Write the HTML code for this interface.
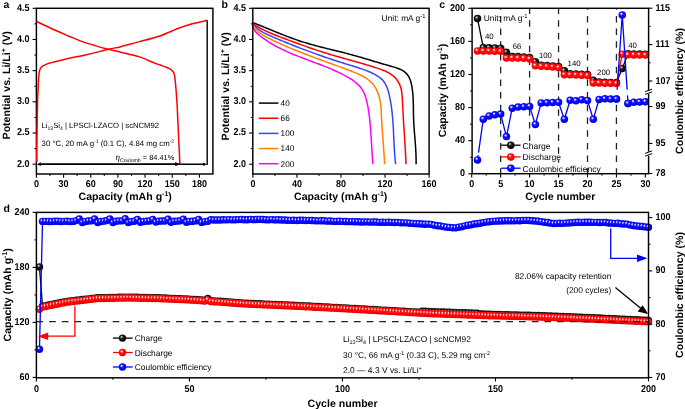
<!DOCTYPE html>
<html><head><meta charset="utf-8"><style>html,body{margin:0;padding:0;background:#fff;width:685px;height:409px;overflow:hidden}svg{display:block;will-change:transform}</style></head>
<body><svg width="685" height="409" viewBox="0 0 685 409" font-family='"Liberation Sans", sans-serif' text-rendering="geometricPrecision"><defs>
<radialGradient id="gR" cx="0.46" cy="0.44" r="0.58" fx="0.36" fy="0.32">
<stop offset="0" stop-color="#ffffff"/><stop offset="0.1" stop-color="#ffe8e8"/><stop offset="0.36" stop-color="#ff1818"/><stop offset="0.75" stop-color="#ff0000"/><stop offset="1" stop-color="#d00000"/></radialGradient>
<radialGradient id="gK" cx="0.46" cy="0.44" r="0.58" fx="0.36" fy="0.32">
<stop offset="0" stop-color="#e8e8e8"/><stop offset="0.1" stop-color="#b0b0b0"/><stop offset="0.4" stop-color="#1a1a1a"/><stop offset="1" stop-color="#000000"/></radialGradient>
<radialGradient id="gB" cx="0.46" cy="0.44" r="0.58" fx="0.36" fy="0.32">
<stop offset="0" stop-color="#ffffff"/><stop offset="0.1" stop-color="#e0e0ff"/><stop offset="0.36" stop-color="#1818ff"/><stop offset="0.75" stop-color="#0000ff"/><stop offset="1" stop-color="#0000d0"/></radialGradient>
<marker id="arK" viewBox="0 0 10 10" refX="10" refY="5" markerWidth="5" markerHeight="5" orient="auto-start-reverse" markerUnits="userSpaceOnUse"><path d="M0,0 L10,5 L0,10 z" fill="#000"/></marker>
</defs>
<text x="3.60" y="7.80" font-size="10.5" font-weight="bold" text-anchor="start" fill="#000" >a</text>
<rect x="36.40" y="8.30" width="176.50" height="165.70" fill="none" stroke="#000" stroke-width="1.45"/>
<path d="M36.70,162.00 C36.73,158.33 36.80,147.83 36.90,140.00 C37.00,132.17 37.18,121.67 37.30,115.00 C37.42,108.33 37.48,103.88 37.60,100.00 C37.72,96.12 37.85,95.12 38.00,91.70 C38.15,88.28 38.25,82.97 38.50,79.50 C38.75,76.03 39.03,72.95 39.50,70.90 C39.97,68.85 40.38,68.22 41.30,67.20 C42.22,66.18 43.57,65.50 45.00,64.80 C46.43,64.10 47.03,63.82 49.90,63.00 C52.77,62.18 59.00,60.68 62.20,59.90 C65.40,59.12 64.68,59.25 69.10,58.30 C73.52,57.35 82.17,55.70 88.70,54.20 C95.23,52.70 103.08,50.52 108.30,49.30 C113.52,48.08 116.38,47.75 120.00,46.90 C123.62,46.05 126.75,45.08 130.00,44.20 C133.25,43.32 134.65,42.93 139.50,41.60 C144.35,40.27 152.58,38.42 159.10,36.20 C165.62,33.98 173.07,30.37 178.60,28.30 C184.13,26.23 187.57,25.13 192.30,23.80 C197.03,22.47 204.55,20.88 207.00,20.30" fill="none" stroke="#ff0000" stroke-width="1.5"/>
<path d="M36.60,21.50 C39.73,22.97 49.98,27.85 55.40,30.30 C60.82,32.75 64.85,34.40 69.10,36.20 C73.35,38.00 76.58,39.53 80.90,41.10 C85.22,42.67 90.43,44.23 95.00,45.60 C99.57,46.97 104.13,48.23 108.30,49.30 C112.47,50.37 116.38,51.15 120.00,52.00 C123.62,52.85 126.75,53.58 130.00,54.40 C133.25,55.22 135.63,55.55 139.50,56.90 C143.37,58.25 149.78,61.15 153.20,62.50 C156.62,63.85 157.85,64.22 160.00,65.00 C162.15,65.78 164.37,66.52 166.10,67.20 C167.83,67.88 169.27,68.38 170.40,69.10 C171.53,69.82 172.23,70.58 172.90,71.50 C173.57,72.42 174.00,72.87 174.40,74.60 C174.80,76.33 175.00,79.05 175.30,81.90 C175.60,84.75 175.90,87.85 176.20,91.70 C176.50,95.55 176.72,97.78 177.10,105.00 C177.48,112.22 178.03,125.13 178.50,135.00 C178.97,144.87 179.67,159.33 179.90,164.20" fill="none" stroke="#ff0000" stroke-width="1.5"/>
<line x1="207.20" y1="20.30" x2="207.20" y2="164.90" stroke="#000" stroke-width="1.4" />
<line x1="39.44" y1="164.20" x2="177.04" y2="164.20" stroke="#000" stroke-width="1.4" />
<path d="M179.80,164.20 L175.20,162.10 L175.20,166.30 z" fill="#000"/>
<path d="M37.40,164.20 L40.80,162.60 L40.80,165.80 z" fill="#000"/>
<line x1="39.44" y1="164.20" x2="204.74" y2="164.20" stroke="#000" stroke-width="1.4" />
<path d="M206.90,164.20 L203.30,162.50 L203.30,165.90 z" fill="#000"/>
<path d="M37.40,164.20 L40.80,162.60 L40.80,165.80 z" fill="#000"/>
<line x1="36.40" y1="174.00" x2="36.40" y2="177.70" stroke="#000" stroke-width="1.1" />
<text transform="translate(36.40,187.40) scale(1,1.1)" font-size="9" font-weight="bold" text-anchor="middle" fill="#000" >0</text>
<line x1="63.57" y1="174.00" x2="63.57" y2="177.70" stroke="#000" stroke-width="1.1" />
<text transform="translate(63.57,187.40) scale(1,1.1)" font-size="9" font-weight="bold" text-anchor="middle" fill="#000" >30</text>
<line x1="90.74" y1="174.00" x2="90.74" y2="177.70" stroke="#000" stroke-width="1.1" />
<text transform="translate(90.74,187.40) scale(1,1.1)" font-size="9" font-weight="bold" text-anchor="middle" fill="#000" >60</text>
<line x1="117.90" y1="174.00" x2="117.90" y2="177.70" stroke="#000" stroke-width="1.1" />
<text transform="translate(117.90,187.40) scale(1,1.1)" font-size="9" font-weight="bold" text-anchor="middle" fill="#000" >90</text>
<line x1="145.07" y1="174.00" x2="145.07" y2="177.70" stroke="#000" stroke-width="1.1" />
<text transform="translate(145.07,187.40) scale(1,1.1)" font-size="9" font-weight="bold" text-anchor="middle" fill="#000" >120</text>
<line x1="172.24" y1="174.00" x2="172.24" y2="177.70" stroke="#000" stroke-width="1.1" />
<text transform="translate(172.24,187.40) scale(1,1.1)" font-size="9" font-weight="bold" text-anchor="middle" fill="#000" >150</text>
<line x1="199.41" y1="174.00" x2="199.41" y2="177.70" stroke="#000" stroke-width="1.1" />
<text transform="translate(199.41,187.40) scale(1,1.1)" font-size="9" font-weight="bold" text-anchor="middle" fill="#000" >180</text>
<line x1="49.98" y1="174.00" x2="49.98" y2="176.00" stroke="#000" stroke-width="1.0" />
<line x1="77.15" y1="174.00" x2="77.15" y2="176.00" stroke="#000" stroke-width="1.0" />
<line x1="104.32" y1="174.00" x2="104.32" y2="176.00" stroke="#000" stroke-width="1.0" />
<line x1="131.49" y1="174.00" x2="131.49" y2="176.00" stroke="#000" stroke-width="1.0" />
<line x1="158.66" y1="174.00" x2="158.66" y2="176.00" stroke="#000" stroke-width="1.0" />
<line x1="185.82" y1="174.00" x2="185.82" y2="176.00" stroke="#000" stroke-width="1.0" />
<line x1="32.60" y1="164.20" x2="36.40" y2="164.20" stroke="#000" stroke-width="1.1" />
<text transform="translate(29.60,166.50) scale(1,1.1)" font-size="9" font-weight="bold" text-anchor="end" fill="#000" >2.0</text>
<line x1="32.60" y1="133.02" x2="36.40" y2="133.02" stroke="#000" stroke-width="1.1" />
<text transform="translate(29.60,135.32) scale(1,1.1)" font-size="9" font-weight="bold" text-anchor="end" fill="#000" >2.5</text>
<line x1="32.60" y1="101.84" x2="36.40" y2="101.84" stroke="#000" stroke-width="1.1" />
<text transform="translate(29.60,104.14) scale(1,1.1)" font-size="9" font-weight="bold" text-anchor="end" fill="#000" >3.0</text>
<line x1="32.60" y1="70.66" x2="36.40" y2="70.66" stroke="#000" stroke-width="1.1" />
<text transform="translate(29.60,72.96) scale(1,1.1)" font-size="9" font-weight="bold" text-anchor="end" fill="#000" >3.5</text>
<line x1="32.60" y1="39.48" x2="36.40" y2="39.48" stroke="#000" stroke-width="1.1" />
<text transform="translate(29.60,41.78) scale(1,1.1)" font-size="9" font-weight="bold" text-anchor="end" fill="#000" >4.0</text>
<line x1="32.60" y1="8.30" x2="36.40" y2="8.30" stroke="#000" stroke-width="1.1" />
<text transform="translate(29.60,10.60) scale(1,1.1)" font-size="9" font-weight="bold" text-anchor="end" fill="#000" >4.5</text>
<line x1="34.40" y1="148.61" x2="36.40" y2="148.61" stroke="#000" stroke-width="1.0" />
<line x1="34.40" y1="117.43" x2="36.40" y2="117.43" stroke="#000" stroke-width="1.0" />
<line x1="34.40" y1="86.25" x2="36.40" y2="86.25" stroke="#000" stroke-width="1.0" />
<line x1="34.40" y1="55.07" x2="36.40" y2="55.07" stroke="#000" stroke-width="1.0" />
<line x1="34.40" y1="23.89" x2="36.40" y2="23.89" stroke="#000" stroke-width="1.0" />
<text x="125.20" y="199.90" font-size="10.6" font-weight="bold" text-anchor="middle" fill="#000" >Capacity (mAh g<tspan font-size="7" dy="-4">-1</tspan><tspan dy="4">)</tspan></text>
<text transform="translate(9.80,85.30) rotate(-90)" x="0" y="0" font-size="10.6" font-weight="bold" text-anchor="middle">Potential vs. Li/Li<tspan font-size="7" dy="-4">+</tspan><tspan dy="4"> (V)</tspan></text>
<text x="41.6" y="128.2" font-size="7.7" fill="#000">Li<tspan font-size="5" dy="2">13</tspan><tspan dy="-2">Si</tspan><tspan font-size="5" dy="2">4</tspan><tspan dy="-2"> | LPSCl-LZACO | scNCM92</tspan></text>
<text x="41.6" y="145.8" font-size="7.8" fill="#000">30 °C, 20 mA g<tspan font-size="5" dy="-3">-1</tspan><tspan dy="3"> (0.1 C), 4.84 mg cm</tspan><tspan font-size="5" dy="-3">-2</tspan></text>
<text x="115.5" y="160" font-size="7.4" fill="#000"><tspan font-family="Liberation Serif" font-style="italic" font-size="9">η</tspan><tspan font-size="5.2" dy="1.5">Coulomb</tspan><tspan dy="-1.5"> = 84.41%</tspan></text>
<text x="221.60" y="7.80" font-size="10.5" font-weight="bold" text-anchor="start" fill="#000" >b</text>
<path d="M252.76,22.67 L254.26,23.24 L255.76,23.81 L257.26,24.39 L258.76,24.98 L260.25,25.57 L261.74,26.16 L263.23,26.76 L264.71,27.36 L266.20,27.96 L267.68,28.56 L269.16,29.17 L270.64,29.78 L272.12,30.38 L273.60,30.99 L275.08,31.59 L276.56,32.20 L278.04,32.80 L279.52,33.39 L281.01,33.99 L282.49,34.58 L283.98,35.17 L285.47,35.75 L286.95,36.33 L288.45,36.90 L289.94,37.46 L291.44,38.02 L292.94,38.57 L294.44,39.11 L295.95,39.64 L297.46,40.16 L298.98,40.68 L300.50,41.18 L302.02,41.67 L303.55,42.15 L305.08,42.62 L306.62,43.09 L308.16,43.54 L309.70,43.99 L311.25,44.42 L312.80,44.86 L314.35,45.28 L315.90,45.70 L317.46,46.11 L319.02,46.52 L320.58,46.92 L322.14,47.32 L323.70,47.71 L325.26,48.11 L326.82,48.50 L328.38,48.88 L329.94,49.27 L331.50,49.65 L333.06,50.03 L334.62,50.42 L336.18,50.80 L337.73,51.19 L339.29,51.57 L340.84,51.96 L342.39,52.35 L343.94,52.74 L345.48,53.14 L347.02,53.53 L348.56,53.94 L350.09,54.35 L351.62,54.76 L353.15,55.18 L354.68,55.60 L356.20,56.03 L357.72,56.46 L359.24,56.90 L360.75,57.34 L362.27,57.78 L363.79,58.23 L365.31,58.67 L366.83,59.13 L368.35,59.58 L369.87,60.03 L371.40,60.49 L372.93,60.95 L374.46,61.41 L376.00,61.86 L377.55,62.32 L379.09,62.78 L380.65,63.24 L382.21,63.70 L383.78,64.16 L385.35,64.62 L386.93,65.08 L388.52,65.53 L390.12,65.99 L391.73,66.44 L393.34,66.90 L394.93,67.38 L396.51,67.89 L398.04,68.44 L399.54,69.03 L400.98,69.69 L402.36,70.42 L403.66,71.23 L404.88,72.13 L406.00,73.12 L407.02,74.22 L407.94,75.42 L408.74,76.70 L409.44,78.07 L410.05,79.51 L410.57,81.01 L411.02,82.56 L411.41,84.14 L411.74,85.73 L412.02,87.34 L412.27,88.95 L412.49,90.56 L412.68,92.17 L412.83,93.78 L412.96,95.39 L413.07,97.00 L413.15,98.61 L413.22,100.22 L413.27,101.84 L413.31,103.45 L413.34,105.06 L413.37,106.67 L413.39,108.27 L413.40,109.88 L413.42,111.49 L413.44,113.09 L413.47,114.69 L413.51,116.30 L413.56,117.90 L413.62,119.49 L413.69,121.09 L413.77,122.69 L413.86,124.28 L413.96,125.87 L414.07,127.46 L414.18,129.05 L414.30,130.64 L414.42,132.23 L414.55,133.82 L414.68,135.41 L414.81,137.00 L414.93,138.59 L415.06,140.18 L415.18,141.77 L415.31,143.36 L415.42,144.96 L415.53,146.55 L415.64,148.14 L415.74,149.74 L415.82,151.34 L415.90,152.94 L415.97,154.54 L416.03,156.14 L416.07,157.75 L416.10,159.36 L416.12,160.97 L416.11,162.59 L416.10,164.20" fill="none" stroke="#000000" stroke-width="1.5"/>
<path d="M252.56,22.79 L253.59,23.84 L254.73,24.80 L255.93,25.68 L257.20,26.50 L258.52,27.27 L259.86,28.01 L261.21,28.72 L262.57,29.41 L263.93,30.09 L265.30,30.74 L266.68,31.38 L268.06,32.01 L269.45,32.62 L270.84,33.22 L272.24,33.81 L273.65,34.39 L275.05,34.96 L276.47,35.52 L277.88,36.07 L279.30,36.62 L280.72,37.17 L282.14,37.71 L283.57,38.24 L285.00,38.78 L286.43,39.31 L287.86,39.85 L289.29,40.38 L290.72,40.91 L292.16,41.45 L293.60,41.98 L295.03,42.51 L296.47,43.03 L297.91,43.56 L299.35,44.08 L300.80,44.61 L302.24,45.12 L303.68,45.64 L305.13,46.15 L306.57,46.66 L308.02,47.17 L309.46,47.68 L310.91,48.18 L312.36,48.67 L313.80,49.17 L315.25,49.65 L316.70,50.14 L318.14,50.62 L319.59,51.09 L321.04,51.56 L322.48,52.02 L323.93,52.48 L325.38,52.94 L326.82,53.38 L328.27,53.83 L329.72,54.26 L331.16,54.70 L332.61,55.13 L334.05,55.55 L335.50,55.97 L336.94,56.39 L338.39,56.81 L339.84,57.22 L341.29,57.63 L342.74,58.04 L344.19,58.45 L345.64,58.86 L347.09,59.27 L348.54,59.68 L349.99,60.08 L351.45,60.49 L352.90,60.90 L354.36,61.31 L355.82,61.72 L357.28,62.14 L358.75,62.55 L360.21,62.97 L361.68,63.40 L363.15,63.82 L364.62,64.25 L366.09,64.69 L367.57,65.13 L369.04,65.57 L370.52,66.02 L372.01,66.48 L373.49,66.94 L374.98,67.41 L376.47,67.88 L377.96,68.37 L379.44,68.87 L380.92,69.40 L382.37,69.94 L383.81,70.52 L385.22,71.13 L386.60,71.77 L387.96,72.46 L389.27,73.19 L390.54,73.97 L391.76,74.81 L392.93,75.71 L394.05,76.67 L395.10,77.69 L396.09,78.79 L397.01,79.96 L397.86,81.21 L398.64,82.52 L399.33,83.88 L399.95,85.29 L400.49,86.73 L400.94,88.21 L401.31,89.70 L401.60,91.21 L401.82,92.73 L401.99,94.26 L402.12,95.79 L402.23,97.32 L402.32,98.85 L402.41,100.38 L402.49,101.90 L402.58,103.42 L402.66,104.94 L402.73,106.46 L402.81,107.98 L402.89,109.49 L402.96,111.01 L403.04,112.52 L403.11,114.03 L403.19,115.55 L403.27,117.06 L403.36,118.58 L403.44,120.09 L403.53,121.61 L403.62,123.13 L403.72,124.65 L403.81,126.17 L403.91,127.69 L404.00,129.21 L404.10,130.73 L404.20,132.25 L404.30,133.78 L404.40,135.30 L404.50,136.82 L404.60,138.34 L404.70,139.87 L404.80,141.39 L404.89,142.91 L404.99,144.44 L405.08,145.96 L405.17,147.48 L405.26,149.00 L405.35,150.53 L405.44,152.05 L405.52,153.57 L405.60,155.09 L405.68,156.61 L405.75,158.13 L405.82,159.65 L405.88,161.17 L405.94,162.68 L406.00,164.20" fill="none" stroke="#ff0000" stroke-width="1.5"/>
<path d="M252.50,22.74 L253.12,24.05 L253.90,25.23 L254.79,26.31 L255.78,27.31 L256.83,28.24 L257.93,29.12 L259.07,29.95 L260.26,30.73 L261.48,31.47 L262.73,32.17 L264.01,32.85 L265.31,33.50 L266.63,34.12 L267.96,34.73 L269.29,35.33 L270.63,35.93 L271.97,36.52 L273.31,37.10 L274.65,37.69 L275.99,38.27 L277.33,38.84 L278.67,39.41 L280.01,39.98 L281.35,40.55 L282.69,41.11 L284.04,41.67 L285.38,42.22 L286.72,42.78 L288.06,43.32 L289.41,43.87 L290.75,44.41 L292.10,44.95 L293.44,45.49 L294.79,46.02 L296.13,46.55 L297.48,47.07 L298.83,47.59 L300.18,48.11 L301.52,48.63 L302.87,49.14 L304.22,49.65 L305.58,50.16 L306.93,50.67 L308.28,51.17 L309.63,51.67 L310.99,52.16 L312.34,52.66 L313.70,53.15 L315.05,53.63 L316.41,54.12 L317.77,54.60 L319.13,55.08 L320.48,55.55 L321.85,56.03 L323.21,56.50 L324.57,56.97 L325.93,57.43 L327.30,57.89 L328.66,58.35 L330.03,58.81 L331.39,59.27 L332.76,59.72 L334.13,60.17 L335.50,60.62 L336.87,61.06 L338.25,61.51 L339.62,61.95 L340.99,62.39 L342.37,62.82 L343.75,63.26 L345.13,63.69 L346.51,64.12 L347.89,64.54 L349.27,64.97 L350.65,65.39 L352.04,65.81 L353.42,66.24 L354.80,66.66 L356.19,67.09 L357.57,67.53 L358.95,67.97 L360.32,68.42 L361.70,68.89 L363.07,69.37 L364.43,69.86 L365.79,70.38 L367.14,70.91 L368.48,71.46 L369.82,72.04 L371.15,72.64 L372.47,73.27 L373.78,73.92 L375.09,74.61 L376.37,75.33 L377.64,76.09 L378.86,76.90 L380.03,77.75 L381.14,78.67 L382.17,79.64 L383.11,80.69 L383.97,81.79 L384.75,82.96 L385.47,84.17 L386.11,85.43 L386.70,86.73 L387.23,88.07 L387.71,89.44 L388.15,90.83 L388.55,92.24 L388.92,93.67 L389.26,95.11 L389.58,96.55 L389.88,97.99 L390.16,99.43 L390.43,100.87 L390.68,102.30 L390.92,103.74 L391.15,105.18 L391.36,106.62 L391.55,108.05 L391.74,109.49 L391.91,110.93 L392.08,112.36 L392.23,113.80 L392.37,115.23 L392.50,116.67 L392.63,118.11 L392.75,119.54 L392.86,120.98 L392.96,122.41 L393.05,123.85 L393.14,125.28 L393.23,126.72 L393.31,128.15 L393.39,129.59 L393.46,131.02 L393.53,132.46 L393.60,133.90 L393.67,135.33 L393.74,136.77 L393.80,138.21 L393.87,139.65 L393.94,141.08 L394.00,142.52 L394.08,143.96 L394.15,145.40 L394.23,146.85 L394.31,148.29 L394.39,149.73 L394.48,151.17 L394.58,152.62 L394.68,154.06 L394.79,155.51 L394.91,156.96 L395.03,158.40 L395.17,159.85 L395.31,161.30 L395.46,162.76 L395.62,164.21" fill="none" stroke="#3344ff" stroke-width="1.5"/>
<path d="M252.56,22.68 L252.90,24.06 L253.38,25.34 L253.98,26.54 L254.67,27.67 L255.46,28.74 L256.31,29.74 L257.23,30.70 L258.21,31.61 L259.24,32.47 L260.33,33.30 L261.45,34.08 L262.61,34.84 L263.81,35.56 L265.03,36.26 L266.27,36.94 L267.52,37.60 L268.79,38.24 L270.06,38.87 L271.33,39.50 L272.60,40.12 L273.87,40.73 L275.14,41.33 L276.41,41.93 L277.68,42.52 L278.95,43.11 L280.22,43.69 L281.48,44.26 L282.75,44.83 L284.02,45.39 L285.29,45.94 L286.56,46.49 L287.83,47.04 L289.10,47.58 L290.37,48.11 L291.64,48.64 L292.91,49.17 L294.18,49.69 L295.45,50.21 L296.73,50.72 L298.00,51.23 L299.27,51.74 L300.54,52.24 L301.82,52.74 L303.09,53.24 L304.37,53.73 L305.64,54.23 L306.92,54.71 L308.20,55.20 L309.47,55.68 L310.75,56.17 L312.03,56.65 L313.31,57.12 L314.59,57.60 L315.88,58.08 L317.16,58.55 L318.44,59.02 L319.73,59.50 L321.01,59.97 L322.30,60.44 L323.59,60.91 L324.88,61.38 L326.17,61.85 L327.46,62.32 L328.76,62.79 L330.05,63.27 L331.35,63.74 L332.65,64.21 L333.94,64.69 L335.24,65.16 L336.55,65.64 L337.85,66.12 L339.15,66.60 L340.46,67.08 L341.77,67.57 L343.08,68.05 L344.39,68.54 L345.70,69.03 L347.02,69.53 L348.34,70.03 L349.66,70.53 L350.98,71.03 L352.30,71.54 L353.61,72.06 L354.93,72.59 L356.23,73.13 L357.53,73.68 L358.81,74.25 L360.07,74.85 L361.32,75.46 L362.55,76.10 L363.75,76.76 L364.93,77.46 L366.08,78.19 L367.20,78.95 L368.28,79.74 L369.33,80.58 L370.34,81.46 L371.31,82.38 L372.23,83.35 L373.11,84.37 L373.93,85.44 L374.71,86.56 L375.44,87.73 L376.11,88.94 L376.74,90.19 L377.32,91.47 L377.85,92.78 L378.33,94.11 L378.77,95.46 L379.17,96.81 L379.52,98.17 L379.82,99.53 L380.09,100.90 L380.33,102.26 L380.53,103.63 L380.70,104.99 L380.84,106.36 L380.97,107.73 L381.07,109.10 L381.16,110.47 L381.24,111.84 L381.31,113.21 L381.37,114.58 L381.44,115.95 L381.50,117.33 L381.57,118.70 L381.64,120.08 L381.72,121.46 L381.80,122.83 L381.88,124.21 L381.97,125.59 L382.06,126.97 L382.15,128.35 L382.25,129.73 L382.35,131.11 L382.44,132.49 L382.54,133.87 L382.65,135.25 L382.75,136.63 L382.85,138.01 L382.95,139.39 L383.06,140.77 L383.16,142.15 L383.27,143.53 L383.37,144.91 L383.47,146.29 L383.57,147.67 L383.67,149.05 L383.77,150.43 L383.86,151.81 L383.96,153.19 L384.05,154.57 L384.14,155.95 L384.22,157.32 L384.31,158.70 L384.39,160.08 L384.46,161.45 L384.53,162.83 L384.60,164.20" fill="none" stroke="#ff8000" stroke-width="1.5"/>
<path d="M252.96,22.50 L252.78,23.99 L252.80,25.38 L252.99,26.70 L253.35,27.93 L253.85,29.09 L254.48,30.18 L255.21,31.21 L256.04,32.19 L256.95,33.13 L257.92,34.03 L258.93,34.89 L259.96,35.74 L261.01,36.56 L262.07,37.36 L263.13,38.15 L264.20,38.93 L265.28,39.68 L266.37,40.43 L267.46,41.15 L268.56,41.87 L269.67,42.57 L270.78,43.25 L271.90,43.92 L273.03,44.58 L274.16,45.23 L275.30,45.86 L276.44,46.49 L277.59,47.10 L278.75,47.70 L279.91,48.29 L281.07,48.87 L282.24,49.44 L283.41,50.00 L284.59,50.55 L285.77,51.09 L286.96,51.63 L288.15,52.16 L289.34,52.68 L290.54,53.19 L291.74,53.70 L292.95,54.20 L294.15,54.70 L295.36,55.19 L296.57,55.67 L297.79,56.15 L299.01,56.63 L300.23,57.10 L301.45,57.57 L302.67,58.04 L303.89,58.50 L305.12,58.97 L306.34,59.43 L307.57,59.89 L308.80,60.34 L310.03,60.80 L311.26,61.26 L312.49,61.72 L313.72,62.18 L314.95,62.64 L316.18,63.10 L317.40,63.56 L318.63,64.03 L319.86,64.50 L321.09,64.97 L322.31,65.45 L323.54,65.92 L324.76,66.41 L325.98,66.90 L327.20,67.39 L328.41,67.89 L329.63,68.39 L330.84,68.90 L332.05,69.42 L333.26,69.95 L334.46,70.48 L335.66,71.02 L336.86,71.57 L338.05,72.13 L339.24,72.69 L340.43,73.27 L341.61,73.86 L342.79,74.45 L343.96,75.06 L345.13,75.68 L346.29,76.31 L347.44,76.96 L348.58,77.62 L349.71,78.30 L350.82,78.99 L351.91,79.71 L352.99,80.45 L354.03,81.21 L355.06,82.00 L356.05,82.82 L357.02,83.66 L357.95,84.53 L358.85,85.43 L359.71,86.37 L360.53,87.34 L361.31,88.35 L362.04,89.39 L362.73,90.47 L363.37,91.60 L363.96,92.76 L364.49,93.97 L364.97,95.22 L365.40,96.51 L365.79,97.82 L366.16,99.13 L366.50,100.44 L366.82,101.75 L367.12,103.06 L367.40,104.36 L367.67,105.65 L367.92,106.95 L368.16,108.24 L368.38,109.53 L368.58,110.82 L368.78,112.11 L368.96,113.39 L369.14,114.68 L369.30,115.97 L369.46,117.26 L369.61,118.55 L369.75,119.84 L369.89,121.14 L370.01,122.43 L370.14,123.73 L370.25,125.03 L370.36,126.32 L370.47,127.62 L370.57,128.92 L370.67,130.23 L370.77,131.53 L370.86,132.83 L370.94,134.14 L371.03,135.44 L371.11,136.75 L371.19,138.05 L371.27,139.36 L371.35,140.67 L371.43,141.97 L371.51,143.28 L371.58,144.59 L371.66,145.90 L371.74,147.21 L371.82,148.52 L371.90,149.82 L371.98,151.13 L372.07,152.44 L372.16,153.75 L372.25,155.06 L372.34,156.36 L372.44,157.67 L372.54,158.98 L372.65,160.29 L372.76,161.59 L372.88,162.90 L373.00,164.20" fill="none" stroke="#ff00ff" stroke-width="1.5"/>
<rect x="252.80" y="8.30" width="176.30" height="165.70" fill="none" stroke="#000" stroke-width="1.45"/>
<line x1="252.90" y1="174.00" x2="252.90" y2="177.70" stroke="#000" stroke-width="1.1" />
<text transform="translate(252.90,187.40) scale(1,1.1)" font-size="9" font-weight="bold" text-anchor="middle" fill="#000" >0</text>
<line x1="296.95" y1="174.00" x2="296.95" y2="177.70" stroke="#000" stroke-width="1.1" />
<text transform="translate(296.95,187.40) scale(1,1.1)" font-size="9" font-weight="bold" text-anchor="middle" fill="#000" >40</text>
<line x1="341.00" y1="174.00" x2="341.00" y2="177.70" stroke="#000" stroke-width="1.1" />
<text transform="translate(341.00,187.40) scale(1,1.1)" font-size="9" font-weight="bold" text-anchor="middle" fill="#000" >80</text>
<line x1="385.06" y1="174.00" x2="385.06" y2="177.70" stroke="#000" stroke-width="1.1" />
<text transform="translate(385.06,187.40) scale(1,1.1)" font-size="9" font-weight="bold" text-anchor="middle" fill="#000" >120</text>
<line x1="429.11" y1="174.00" x2="429.11" y2="177.70" stroke="#000" stroke-width="1.1" />
<text transform="translate(429.11,187.40) scale(1,1.1)" font-size="9" font-weight="bold" text-anchor="middle" fill="#000" >160</text>
<line x1="274.93" y1="174.00" x2="274.93" y2="176.00" stroke="#000" stroke-width="1.0" />
<line x1="318.98" y1="174.00" x2="318.98" y2="176.00" stroke="#000" stroke-width="1.0" />
<line x1="363.03" y1="174.00" x2="363.03" y2="176.00" stroke="#000" stroke-width="1.0" />
<line x1="407.08" y1="174.00" x2="407.08" y2="176.00" stroke="#000" stroke-width="1.0" />
<line x1="249.00" y1="164.20" x2="252.80" y2="164.20" stroke="#000" stroke-width="1.1" />
<text transform="translate(246.00,166.50) scale(1,1.1)" font-size="9" font-weight="bold" text-anchor="end" fill="#000" >2.0</text>
<line x1="249.00" y1="133.02" x2="252.80" y2="133.02" stroke="#000" stroke-width="1.1" />
<text transform="translate(246.00,135.32) scale(1,1.1)" font-size="9" font-weight="bold" text-anchor="end" fill="#000" >2.5</text>
<line x1="249.00" y1="101.84" x2="252.80" y2="101.84" stroke="#000" stroke-width="1.1" />
<text transform="translate(246.00,104.14) scale(1,1.1)" font-size="9" font-weight="bold" text-anchor="end" fill="#000" >3.0</text>
<line x1="249.00" y1="70.66" x2="252.80" y2="70.66" stroke="#000" stroke-width="1.1" />
<text transform="translate(246.00,72.96) scale(1,1.1)" font-size="9" font-weight="bold" text-anchor="end" fill="#000" >3.5</text>
<line x1="249.00" y1="39.48" x2="252.80" y2="39.48" stroke="#000" stroke-width="1.1" />
<text transform="translate(246.00,41.78) scale(1,1.1)" font-size="9" font-weight="bold" text-anchor="end" fill="#000" >4.0</text>
<line x1="249.00" y1="8.30" x2="252.80" y2="8.30" stroke="#000" stroke-width="1.1" />
<text transform="translate(246.00,10.60) scale(1,1.1)" font-size="9" font-weight="bold" text-anchor="end" fill="#000" >4.5</text>
<line x1="250.80" y1="148.61" x2="252.80" y2="148.61" stroke="#000" stroke-width="1.0" />
<line x1="250.80" y1="117.43" x2="252.80" y2="117.43" stroke="#000" stroke-width="1.0" />
<line x1="250.80" y1="86.25" x2="252.80" y2="86.25" stroke="#000" stroke-width="1.0" />
<line x1="250.80" y1="55.07" x2="252.80" y2="55.07" stroke="#000" stroke-width="1.0" />
<line x1="250.80" y1="23.89" x2="252.80" y2="23.89" stroke="#000" stroke-width="1.0" />
<text x="340.70" y="200.00" font-size="10.6" font-weight="bold" text-anchor="middle" fill="#000" >Capacity (mAh g<tspan font-size="7" dy="-4">-1</tspan><tspan dy="4">)</tspan></text>
<text transform="translate(228.80,86.30) rotate(-90)" x="0" y="0" font-size="10.6" font-weight="bold" text-anchor="middle">Potential vs. Li/Li<tspan font-size="7" dy="-4">+</tspan><tspan dy="4"> (V)</tspan></text>
<line x1="258.80" y1="103.10" x2="278.40" y2="103.10" stroke="#000000" stroke-width="1.5" />
<text x="280.60" y="106.00" font-size="8.2" text-anchor="start" fill="#000" >40</text>
<line x1="258.80" y1="118.25" x2="278.40" y2="118.25" stroke="#ff0000" stroke-width="1.5" />
<text x="280.60" y="121.15" font-size="8.2" text-anchor="start" fill="#000" >66</text>
<line x1="258.80" y1="133.40" x2="278.40" y2="133.40" stroke="#3344ff" stroke-width="1.5" />
<text x="280.60" y="136.30" font-size="8.2" text-anchor="start" fill="#000" >100</text>
<line x1="258.80" y1="148.55" x2="278.40" y2="148.55" stroke="#ff8000" stroke-width="1.5" />
<text x="280.60" y="151.45" font-size="8.2" text-anchor="start" fill="#000" >140</text>
<line x1="258.80" y1="163.70" x2="278.40" y2="163.70" stroke="#ff00ff" stroke-width="1.5" />
<text x="280.60" y="166.60" font-size="8.2" text-anchor="start" fill="#000" >200</text>
<text x="381.6" y="20.9" font-size="8.4">Unit: mA g<tspan font-size="5.8" dy="-3.3">-1</tspan></text>
<text x="439.30" y="7.80" font-size="10.5" font-weight="bold" text-anchor="start" fill="#000" >c</text>
<line x1="500.65" y1="8.30" x2="500.65" y2="173.70" stroke="#222" stroke-width="1.3" stroke-dasharray="6.5 6.2" stroke-dashoffset="5.1"/>
<line x1="529.60" y1="8.30" x2="529.60" y2="173.70" stroke="#222" stroke-width="1.3" stroke-dasharray="6.5 6.2" stroke-dashoffset="0.7"/>
<line x1="558.55" y1="8.30" x2="558.55" y2="173.70" stroke="#222" stroke-width="1.3" stroke-dasharray="6.5 6.2" stroke-dashoffset="0.7"/>
<line x1="587.50" y1="8.30" x2="587.50" y2="173.70" stroke="#222" stroke-width="1.3" stroke-dasharray="6.5 6.2" stroke-dashoffset="5.1"/>
<line x1="616.45" y1="8.30" x2="616.45" y2="173.70" stroke="#222" stroke-width="1.3" stroke-dasharray="6.5 6.2" stroke-dashoffset="5.1"/>
<rect x="527.60" y="141" width="4" height="31.90" fill="#fff"/>
<rect x="556.55" y="162.6" width="4" height="10.30" fill="#fff"/>
<polyline points="477.49,18.60 483.28,47.60 489.07,47.80 494.86,48.00 500.65,48.20 506.44,52.30 512.23,56.60 518.02,56.60 523.81,56.90 529.60,57.60 535.39,61.70 541.18,65.20 546.97,65.60 552.76,66.00 558.55,66.60 564.34,70.70 570.13,73.80 575.92,74.00 581.71,74.20 587.50,74.60 593.29,80.20 599.08,82.10 604.87,82.30 610.66,82.40 616.45,82.60 622.24,68.40 628.03,53.80 633.82,54.00 639.61,54.10 645.40,54.20" fill="none" stroke="#000" stroke-width="1.3"/>
<circle cx="477.49" cy="18.60" r="3.75" fill="url(#gK)"/>
<circle cx="483.28" cy="47.60" r="3.75" fill="url(#gK)"/>
<circle cx="489.07" cy="47.80" r="3.75" fill="url(#gK)"/>
<circle cx="494.86" cy="48.00" r="3.75" fill="url(#gK)"/>
<circle cx="500.65" cy="48.20" r="3.75" fill="url(#gK)"/>
<circle cx="506.44" cy="52.30" r="3.75" fill="url(#gK)"/>
<circle cx="512.23" cy="56.60" r="3.75" fill="url(#gK)"/>
<circle cx="518.02" cy="56.60" r="3.75" fill="url(#gK)"/>
<circle cx="523.81" cy="56.90" r="3.75" fill="url(#gK)"/>
<circle cx="529.60" cy="57.60" r="3.75" fill="url(#gK)"/>
<circle cx="535.39" cy="61.70" r="3.75" fill="url(#gK)"/>
<circle cx="541.18" cy="65.20" r="3.75" fill="url(#gK)"/>
<circle cx="546.97" cy="65.60" r="3.75" fill="url(#gK)"/>
<circle cx="552.76" cy="66.00" r="3.75" fill="url(#gK)"/>
<circle cx="558.55" cy="66.60" r="3.75" fill="url(#gK)"/>
<circle cx="564.34" cy="70.70" r="3.75" fill="url(#gK)"/>
<circle cx="570.13" cy="73.80" r="3.75" fill="url(#gK)"/>
<circle cx="575.92" cy="74.00" r="3.75" fill="url(#gK)"/>
<circle cx="581.71" cy="74.20" r="3.75" fill="url(#gK)"/>
<circle cx="587.50" cy="74.60" r="3.75" fill="url(#gK)"/>
<circle cx="593.29" cy="80.20" r="3.75" fill="url(#gK)"/>
<circle cx="599.08" cy="82.10" r="3.75" fill="url(#gK)"/>
<circle cx="604.87" cy="82.30" r="3.75" fill="url(#gK)"/>
<circle cx="610.66" cy="82.40" r="3.75" fill="url(#gK)"/>
<circle cx="616.45" cy="82.60" r="3.75" fill="url(#gK)"/>
<circle cx="622.24" cy="68.40" r="3.75" fill="url(#gK)"/>
<circle cx="628.03" cy="53.80" r="3.75" fill="url(#gK)"/>
<circle cx="633.82" cy="54.00" r="3.75" fill="url(#gK)"/>
<circle cx="639.61" cy="54.10" r="3.75" fill="url(#gK)"/>
<circle cx="645.40" cy="54.20" r="3.75" fill="url(#gK)"/>
<polyline points="477.49,51.00 483.28,51.00 489.07,51.10 494.86,51.20 500.65,51.30 506.44,58.10 512.23,58.00 518.02,58.10 523.81,58.30 529.60,59.00 535.39,65.80 541.18,66.30 546.97,66.60 552.76,67.00 558.55,67.60 564.34,74.70 570.13,74.80 575.92,75.00 581.71,75.20 587.50,75.60 593.29,82.90 599.08,83.00 604.87,83.20 610.66,83.30 616.45,83.50 622.24,54.20 628.03,54.80 633.82,54.90 639.61,55.00 645.40,55.10" fill="none" stroke="#ff0000" stroke-width="1.3"/>
<circle cx="477.49" cy="51.00" r="3.75" fill="url(#gR)"/>
<circle cx="483.28" cy="51.00" r="3.75" fill="url(#gR)"/>
<circle cx="489.07" cy="51.10" r="3.75" fill="url(#gR)"/>
<circle cx="494.86" cy="51.20" r="3.75" fill="url(#gR)"/>
<circle cx="500.65" cy="51.30" r="3.75" fill="url(#gR)"/>
<circle cx="506.44" cy="58.10" r="3.75" fill="url(#gR)"/>
<circle cx="512.23" cy="58.00" r="3.75" fill="url(#gR)"/>
<circle cx="518.02" cy="58.10" r="3.75" fill="url(#gR)"/>
<circle cx="523.81" cy="58.30" r="3.75" fill="url(#gR)"/>
<circle cx="529.60" cy="59.00" r="3.75" fill="url(#gR)"/>
<circle cx="535.39" cy="65.80" r="3.75" fill="url(#gR)"/>
<circle cx="541.18" cy="66.30" r="3.75" fill="url(#gR)"/>
<circle cx="546.97" cy="66.60" r="3.75" fill="url(#gR)"/>
<circle cx="552.76" cy="67.00" r="3.75" fill="url(#gR)"/>
<circle cx="558.55" cy="67.60" r="3.75" fill="url(#gR)"/>
<circle cx="564.34" cy="74.70" r="3.75" fill="url(#gR)"/>
<circle cx="570.13" cy="74.80" r="3.75" fill="url(#gR)"/>
<circle cx="575.92" cy="75.00" r="3.75" fill="url(#gR)"/>
<circle cx="581.71" cy="75.20" r="3.75" fill="url(#gR)"/>
<circle cx="587.50" cy="75.60" r="3.75" fill="url(#gR)"/>
<circle cx="593.29" cy="82.90" r="3.75" fill="url(#gR)"/>
<circle cx="599.08" cy="83.00" r="3.75" fill="url(#gR)"/>
<circle cx="604.87" cy="83.20" r="3.75" fill="url(#gR)"/>
<circle cx="610.66" cy="83.30" r="3.75" fill="url(#gR)"/>
<circle cx="616.45" cy="83.50" r="3.75" fill="url(#gR)"/>
<circle cx="622.24" cy="54.20" r="3.75" fill="url(#gR)"/>
<circle cx="628.03" cy="54.80" r="3.75" fill="url(#gR)"/>
<circle cx="633.82" cy="54.90" r="3.75" fill="url(#gR)"/>
<circle cx="639.61" cy="55.00" r="3.75" fill="url(#gR)"/>
<circle cx="645.40" cy="55.10" r="3.75" fill="url(#gR)"/>
<polyline points="477.49,159.90 483.28,119.20 489.07,115.90 494.86,114.80 500.65,114.10 506.44,136.60 512.23,108.20 518.02,107.10 523.81,106.80 529.60,106.40 535.39,124.50 541.18,102.90 546.97,102.70 552.76,102.50 558.55,102.30 564.34,119.30 570.13,100.20 575.92,100.80 581.71,99.80 587.50,100.50 593.29,119.30 599.08,99.40 604.87,98.80 610.66,99.10 616.45,99.10 622.24,15.00 628.03,103.50 633.82,102.30 639.61,102.00 645.40,101.70" fill="none" stroke="#0000ff" stroke-width="1.3"/>
<circle cx="477.49" cy="159.90" r="3.75" fill="url(#gB)"/>
<circle cx="483.28" cy="119.20" r="3.75" fill="url(#gB)"/>
<circle cx="489.07" cy="115.90" r="3.75" fill="url(#gB)"/>
<circle cx="494.86" cy="114.80" r="3.75" fill="url(#gB)"/>
<circle cx="500.65" cy="114.10" r="3.75" fill="url(#gB)"/>
<circle cx="506.44" cy="136.60" r="3.75" fill="url(#gB)"/>
<circle cx="512.23" cy="108.20" r="3.75" fill="url(#gB)"/>
<circle cx="518.02" cy="107.10" r="3.75" fill="url(#gB)"/>
<circle cx="523.81" cy="106.80" r="3.75" fill="url(#gB)"/>
<circle cx="529.60" cy="106.40" r="3.75" fill="url(#gB)"/>
<circle cx="535.39" cy="124.50" r="3.75" fill="url(#gB)"/>
<circle cx="541.18" cy="102.90" r="3.75" fill="url(#gB)"/>
<circle cx="546.97" cy="102.70" r="3.75" fill="url(#gB)"/>
<circle cx="552.76" cy="102.50" r="3.75" fill="url(#gB)"/>
<circle cx="558.55" cy="102.30" r="3.75" fill="url(#gB)"/>
<circle cx="564.34" cy="119.30" r="3.75" fill="url(#gB)"/>
<circle cx="570.13" cy="100.20" r="3.75" fill="url(#gB)"/>
<circle cx="575.92" cy="100.80" r="3.75" fill="url(#gB)"/>
<circle cx="581.71" cy="99.80" r="3.75" fill="url(#gB)"/>
<circle cx="587.50" cy="100.50" r="3.75" fill="url(#gB)"/>
<circle cx="593.29" cy="119.30" r="3.75" fill="url(#gB)"/>
<circle cx="599.08" cy="99.40" r="3.75" fill="url(#gB)"/>
<circle cx="604.87" cy="98.80" r="3.75" fill="url(#gB)"/>
<circle cx="610.66" cy="99.10" r="3.75" fill="url(#gB)"/>
<circle cx="616.45" cy="99.10" r="3.75" fill="url(#gB)"/>
<circle cx="622.24" cy="15.00" r="3.75" fill="url(#gB)"/>
<circle cx="628.03" cy="103.50" r="3.75" fill="url(#gB)"/>
<circle cx="633.82" cy="102.30" r="3.75" fill="url(#gB)"/>
<circle cx="639.61" cy="102.00" r="3.75" fill="url(#gB)"/>
<circle cx="645.40" cy="101.70" r="3.75" fill="url(#gB)"/>
<rect x="474" y="152.6" width="8" height="2.6" fill="#fff"/>
<rect x="615" y="89.6" width="16" height="5.8" fill="#fff"/>
<circle cx="616.45" cy="99.10" r="3.75" fill="url(#gB)"/>
<circle cx="628.03" cy="103.50" r="3.75" fill="url(#gB)"/>
<line x1="501.20" y1="145.20" x2="520.60" y2="145.20" stroke="#000" stroke-width="1.3" />
<circle cx="510.8" cy="145.2" r="3.75" fill="url(#gK)"/>
<text x="522.60" y="148.70" font-size="8.55" text-anchor="start" fill="#000" >Charge</text>
<line x1="501.20" y1="156.90" x2="520.60" y2="156.90" stroke="#ff0000" stroke-width="1.3" />
<circle cx="510.8" cy="156.9" r="3.75" fill="url(#gR)"/>
<text x="522.60" y="160.40" font-size="8.55" text-anchor="start" fill="#000" >Discharge</text>
<line x1="501.20" y1="168.20" x2="520.60" y2="168.20" stroke="#0000ff" stroke-width="1.3" />
<circle cx="510.8" cy="168.2" r="3.75" fill="url(#gB)"/>
<text x="522.60" y="171.70" font-size="8.55" text-anchor="start" fill="#000" >Coulombic efficiency</text>
<rect x="472.10" y="8.30" width="176.50" height="165.40" fill="none" stroke="#000" stroke-width="1.45"/>
<line x1="471.70" y1="173.70" x2="471.70" y2="177.40" stroke="#000" stroke-width="1.1" />
<text transform="translate(471.70,187.20) scale(1,1.1)" font-size="9" font-weight="bold" text-anchor="middle" fill="#000" >0</text>
<line x1="500.65" y1="173.70" x2="500.65" y2="177.40" stroke="#000" stroke-width="1.1" />
<text transform="translate(500.65,187.20) scale(1,1.1)" font-size="9" font-weight="bold" text-anchor="middle" fill="#000" >5</text>
<line x1="529.60" y1="173.70" x2="529.60" y2="177.40" stroke="#000" stroke-width="1.1" />
<text transform="translate(529.60,187.20) scale(1,1.1)" font-size="9" font-weight="bold" text-anchor="middle" fill="#000" >10</text>
<line x1="558.55" y1="173.70" x2="558.55" y2="177.40" stroke="#000" stroke-width="1.1" />
<text transform="translate(558.55,187.20) scale(1,1.1)" font-size="9" font-weight="bold" text-anchor="middle" fill="#000" >15</text>
<line x1="587.50" y1="173.70" x2="587.50" y2="177.40" stroke="#000" stroke-width="1.1" />
<text transform="translate(587.50,187.20) scale(1,1.1)" font-size="9" font-weight="bold" text-anchor="middle" fill="#000" >20</text>
<line x1="616.45" y1="173.70" x2="616.45" y2="177.40" stroke="#000" stroke-width="1.1" />
<text transform="translate(616.45,187.20) scale(1,1.1)" font-size="9" font-weight="bold" text-anchor="middle" fill="#000" >25</text>
<line x1="645.40" y1="173.70" x2="645.40" y2="177.40" stroke="#000" stroke-width="1.1" />
<text transform="translate(645.40,187.20) scale(1,1.1)" font-size="9" font-weight="bold" text-anchor="middle" fill="#000" >30</text>
<line x1="486.18" y1="173.70" x2="486.18" y2="175.70" stroke="#000" stroke-width="1.0" />
<line x1="515.12" y1="173.70" x2="515.12" y2="175.70" stroke="#000" stroke-width="1.0" />
<line x1="544.08" y1="173.70" x2="544.08" y2="175.70" stroke="#000" stroke-width="1.0" />
<line x1="573.02" y1="173.70" x2="573.02" y2="175.70" stroke="#000" stroke-width="1.0" />
<line x1="601.98" y1="173.70" x2="601.98" y2="175.70" stroke="#000" stroke-width="1.0" />
<line x1="630.92" y1="173.70" x2="630.92" y2="175.70" stroke="#000" stroke-width="1.0" />
<line x1="468.30" y1="173.80" x2="472.10" y2="173.80" stroke="#000" stroke-width="1.1" />
<text transform="translate(465.00,176.10) scale(1,1.1)" font-size="9" font-weight="bold" text-anchor="end" fill="#000" >0</text>
<line x1="468.30" y1="140.70" x2="472.10" y2="140.70" stroke="#000" stroke-width="1.1" />
<text transform="translate(465.00,143.00) scale(1,1.1)" font-size="9" font-weight="bold" text-anchor="end" fill="#000" >40</text>
<line x1="468.30" y1="107.60" x2="472.10" y2="107.60" stroke="#000" stroke-width="1.1" />
<text transform="translate(465.00,109.90) scale(1,1.1)" font-size="9" font-weight="bold" text-anchor="end" fill="#000" >80</text>
<line x1="468.30" y1="74.50" x2="472.10" y2="74.50" stroke="#000" stroke-width="1.1" />
<text transform="translate(465.00,76.80) scale(1,1.1)" font-size="9" font-weight="bold" text-anchor="end" fill="#000" >120</text>
<line x1="468.30" y1="41.40" x2="472.10" y2="41.40" stroke="#000" stroke-width="1.1" />
<text transform="translate(465.00,43.70) scale(1,1.1)" font-size="9" font-weight="bold" text-anchor="end" fill="#000" >160</text>
<line x1="468.30" y1="8.30" x2="472.10" y2="8.30" stroke="#000" stroke-width="1.1" />
<text transform="translate(465.00,10.60) scale(1,1.1)" font-size="9" font-weight="bold" text-anchor="end" fill="#000" >200</text>
<line x1="470.10" y1="157.25" x2="472.10" y2="157.25" stroke="#000" stroke-width="1.0" />
<line x1="470.10" y1="124.15" x2="472.10" y2="124.15" stroke="#000" stroke-width="1.0" />
<line x1="470.10" y1="91.05" x2="472.10" y2="91.05" stroke="#000" stroke-width="1.0" />
<line x1="470.10" y1="57.95" x2="472.10" y2="57.95" stroke="#000" stroke-width="1.0" />
<line x1="470.10" y1="24.85" x2="472.10" y2="24.85" stroke="#000" stroke-width="1.0" />
<line x1="648.60" y1="8.20" x2="652.40" y2="8.20" stroke="#000" stroke-width="1.1" />
<text transform="translate(655.60,10.80) scale(1,1.1)" font-size="9" font-weight="bold" text-anchor="start" fill="#000" >115</text>
<line x1="648.60" y1="44.60" x2="652.40" y2="44.60" stroke="#000" stroke-width="1.1" />
<text transform="translate(655.60,47.20) scale(1,1.1)" font-size="9" font-weight="bold" text-anchor="start" fill="#000" >111</text>
<line x1="648.60" y1="81.00" x2="652.40" y2="81.00" stroke="#000" stroke-width="1.1" />
<text transform="translate(655.60,83.60) scale(1,1.1)" font-size="9" font-weight="bold" text-anchor="start" fill="#000" >107</text>
<line x1="648.60" y1="106.60" x2="652.40" y2="106.60" stroke="#000" stroke-width="1.1" />
<text transform="translate(655.60,109.20) scale(1,1.1)" font-size="9" font-weight="bold" text-anchor="start" fill="#000" >99</text>
<line x1="648.60" y1="143.40" x2="652.40" y2="143.40" stroke="#000" stroke-width="1.1" />
<text transform="translate(655.60,146.00) scale(1,1.1)" font-size="9" font-weight="bold" text-anchor="start" fill="#000" >95</text>
<line x1="648.60" y1="173.50" x2="652.40" y2="173.50" stroke="#000" stroke-width="1.1" />
<text transform="translate(655.60,176.10) scale(1,1.1)" font-size="9" font-weight="bold" text-anchor="start" fill="#000" >78</text>
<line x1="648.60" y1="26.40" x2="650.60" y2="26.40" stroke="#000" stroke-width="1.0" />
<line x1="648.60" y1="62.80" x2="650.60" y2="62.80" stroke="#000" stroke-width="1.0" />
<line x1="648.60" y1="125.00" x2="650.60" y2="125.00" stroke="#000" stroke-width="1.0" />
<rect x="645.6" y="90.0" width="6" height="4" fill="#fff"/>
<line x1="645.10" y1="91.70" x2="652.10" y2="89.20" stroke="#000" stroke-width="1.0" />
<line x1="645.10" y1="94.40" x2="652.10" y2="91.90" stroke="#000" stroke-width="1.0" />
<rect x="645.6" y="151.7" width="6" height="4" fill="#fff"/>
<line x1="645.10" y1="153.40" x2="652.10" y2="150.90" stroke="#000" stroke-width="1.0" />
<line x1="645.10" y1="156.10" x2="652.10" y2="153.60" stroke="#000" stroke-width="1.0" />
<text x="489.30" y="39.40" font-size="7.8" text-anchor="middle" fill="#000" >40</text>
<text x="517.00" y="48.70" font-size="7.8" text-anchor="middle" fill="#000" >66</text>
<text x="545.40" y="57.60" font-size="7.8" text-anchor="middle" fill="#000" >100</text>
<text x="574.10" y="65.60" font-size="7.8" text-anchor="middle" fill="#000" >140</text>
<text x="603.60" y="74.70" font-size="7.8" text-anchor="middle" fill="#000" >200</text>
<text x="632.50" y="47.70" font-size="7.8" text-anchor="middle" fill="#000" >40</text>
<text x="483.7" y="21.0" font-size="8.4">Unit: mA g<tspan font-size="5.8" dy="-3.3">-1</tspan></text>
<text x="560.30" y="200.10" font-size="10.6" font-weight="bold" text-anchor="middle" fill="#000" >Cycle number</text>
<text transform="translate(446.10,90.50) rotate(-90)" x="0" y="0" font-size="10.6" font-weight="bold" text-anchor="middle">Capacity (mAh g<tspan font-size="7" dy="-4">-1</tspan><tspan dy="4">)</tspan></text>
<text transform="translate(682.70,91.00) rotate(-90)" x="0" y="0" font-size="10.6" font-weight="bold" text-anchor="middle">Coulombic efficiency (%)</text>
<text x="3.40" y="212.30" font-size="10.5" font-weight="bold" text-anchor="start" fill="#000" >d</text>
<defs><circle id="sgK" r="3.7" fill="url(#gK)"/><circle id="sgR" r="3.7" fill="url(#gR)"/><circle id="sgB" r="3.7" fill="url(#gB)"/></defs>
<polyline points="39.46,266.90 42.52,306.28 45.58,305.66 48.64,305.04 51.70,304.42 54.76,303.81 57.82,303.19 60.88,302.57 63.94,301.96 67.00,301.36 70.07,301.00 73.13,300.64 76.19,300.28 79.25,299.92 82.31,299.56 85.37,299.20 88.43,298.84 91.49,298.48 94.55,298.12 97.61,297.79 100.67,297.72 103.73,297.65 106.79,297.58 109.85,297.51 112.91,297.44 115.97,297.37 119.03,297.30 122.09,297.23 125.15,297.16 128.22,297.10 131.28,297.17 134.34,297.24 137.40,297.31 140.46,297.38 143.52,297.45 146.58,297.52 149.64,297.59 152.70,297.67 155.76,297.74 158.82,297.81 161.88,297.94 164.94,298.07 168.00,298.20 171.06,298.33 174.12,298.46 177.18,298.59 180.24,298.72 183.30,298.85 186.36,298.98 189.43,299.11 192.49,299.33 195.55,299.55 198.61,299.77 201.67,299.99 204.73,300.22 207.79,298.34 210.85,300.66 213.91,300.88 216.97,301.10 220.03,301.32 223.09,301.54 226.15,301.76 229.21,301.99 232.27,302.21 235.33,302.43 238.39,302.65 241.45,302.87 244.51,303.09 247.57,303.27 250.64,303.41 253.70,303.54 256.76,303.68 259.82,303.81 262.88,303.95 265.94,304.09 269.00,304.22 272.06,304.36 275.12,304.49 278.18,304.63 281.24,304.77 284.30,304.90 287.36,305.04 290.42,305.17 293.48,305.31 296.54,305.45 299.60,305.58 302.66,305.74 305.72,305.90 308.78,306.06 311.84,306.22 314.91,306.38 317.97,306.54 321.03,306.70 324.09,306.86 327.15,307.03 330.21,307.19 333.27,307.35 336.33,307.51 339.39,307.67 342.45,307.84 345.51,308.01 348.57,308.19 351.63,308.36 354.69,308.53 357.75,308.71 360.81,308.88 363.87,309.05 366.93,309.23 369.99,309.40 373.06,309.57 376.12,309.75 379.18,309.92 382.24,310.09 385.30,310.27 388.36,310.44 391.42,310.61 394.48,310.79 397.54,310.96 400.60,311.13 403.66,311.31 406.72,311.48 409.78,311.65 412.84,311.83 415.90,312.00 418.96,312.17 422.02,311.15 425.08,311.32 428.14,311.49 431.20,311.64 434.26,311.75 437.33,311.86 440.39,311.96 443.45,312.07 446.51,312.18 449.57,312.28 452.63,312.39 455.69,312.50 458.75,312.61 461.81,312.71 464.87,312.82 467.93,312.93 470.99,313.03 474.05,313.14 477.11,313.25 480.17,313.96 483.23,314.06 486.29,314.17 489.35,314.28 492.41,314.36 495.48,314.44 498.54,314.52 501.60,314.60 504.66,314.68 507.72,314.76 510.78,314.84 513.84,314.92 516.90,315.00 519.96,315.08 523.02,315.16 526.08,315.24 529.14,315.32 532.20,315.40 535.26,315.48 538.32,315.56 541.38,315.66 544.44,315.78 547.50,315.90 550.56,316.02 553.62,316.14 556.69,316.27 559.75,316.39 562.81,316.51 565.87,316.63 568.93,316.76 571.99,316.88 575.05,317.00 578.11,317.12 581.17,317.25 584.23,317.37 587.29,317.49 590.35,317.62 593.41,317.76 596.47,317.91 599.53,318.06 602.59,318.20 605.65,318.35 608.71,318.50 611.77,318.64 614.83,318.79 617.89,318.94 620.96,319.08 624.02,319.23 627.08,319.37 630.14,319.52 633.20,319.67 636.26,319.81 639.32,319.96 642.38,320.11 645.44,320.25 648.50,320.40" fill="none" stroke="#000" stroke-width="1.3"/>
<use href="#sgK" x="39.46" y="266.90"/>
<use href="#sgK" x="42.52" y="306.28"/>
<use href="#sgK" x="45.58" y="305.66"/>
<use href="#sgK" x="48.64" y="305.04"/>
<use href="#sgK" x="51.70" y="304.42"/>
<use href="#sgK" x="54.76" y="303.81"/>
<use href="#sgK" x="57.82" y="303.19"/>
<use href="#sgK" x="60.88" y="302.57"/>
<use href="#sgK" x="63.94" y="301.96"/>
<use href="#sgK" x="67.00" y="301.36"/>
<use href="#sgK" x="70.07" y="301.00"/>
<use href="#sgK" x="73.13" y="300.64"/>
<use href="#sgK" x="76.19" y="300.28"/>
<use href="#sgK" x="79.25" y="299.92"/>
<use href="#sgK" x="82.31" y="299.56"/>
<use href="#sgK" x="85.37" y="299.20"/>
<use href="#sgK" x="88.43" y="298.84"/>
<use href="#sgK" x="91.49" y="298.48"/>
<use href="#sgK" x="94.55" y="298.12"/>
<use href="#sgK" x="97.61" y="297.79"/>
<use href="#sgK" x="100.67" y="297.72"/>
<use href="#sgK" x="103.73" y="297.65"/>
<use href="#sgK" x="106.79" y="297.58"/>
<use href="#sgK" x="109.85" y="297.51"/>
<use href="#sgK" x="112.91" y="297.44"/>
<use href="#sgK" x="115.97" y="297.37"/>
<use href="#sgK" x="119.03" y="297.30"/>
<use href="#sgK" x="122.09" y="297.23"/>
<use href="#sgK" x="125.15" y="297.16"/>
<use href="#sgK" x="128.22" y="297.10"/>
<use href="#sgK" x="131.28" y="297.17"/>
<use href="#sgK" x="134.34" y="297.24"/>
<use href="#sgK" x="137.40" y="297.31"/>
<use href="#sgK" x="140.46" y="297.38"/>
<use href="#sgK" x="143.52" y="297.45"/>
<use href="#sgK" x="146.58" y="297.52"/>
<use href="#sgK" x="149.64" y="297.59"/>
<use href="#sgK" x="152.70" y="297.67"/>
<use href="#sgK" x="155.76" y="297.74"/>
<use href="#sgK" x="158.82" y="297.81"/>
<use href="#sgK" x="161.88" y="297.94"/>
<use href="#sgK" x="164.94" y="298.07"/>
<use href="#sgK" x="168.00" y="298.20"/>
<use href="#sgK" x="171.06" y="298.33"/>
<use href="#sgK" x="174.12" y="298.46"/>
<use href="#sgK" x="177.18" y="298.59"/>
<use href="#sgK" x="180.24" y="298.72"/>
<use href="#sgK" x="183.30" y="298.85"/>
<use href="#sgK" x="186.36" y="298.98"/>
<use href="#sgK" x="189.43" y="299.11"/>
<use href="#sgK" x="192.49" y="299.33"/>
<use href="#sgK" x="195.55" y="299.55"/>
<use href="#sgK" x="198.61" y="299.77"/>
<use href="#sgK" x="201.67" y="299.99"/>
<use href="#sgK" x="204.73" y="300.22"/>
<use href="#sgK" x="207.79" y="298.34"/>
<use href="#sgK" x="210.85" y="300.66"/>
<use href="#sgK" x="213.91" y="300.88"/>
<use href="#sgK" x="216.97" y="301.10"/>
<use href="#sgK" x="220.03" y="301.32"/>
<use href="#sgK" x="223.09" y="301.54"/>
<use href="#sgK" x="226.15" y="301.76"/>
<use href="#sgK" x="229.21" y="301.99"/>
<use href="#sgK" x="232.27" y="302.21"/>
<use href="#sgK" x="235.33" y="302.43"/>
<use href="#sgK" x="238.39" y="302.65"/>
<use href="#sgK" x="241.45" y="302.87"/>
<use href="#sgK" x="244.51" y="303.09"/>
<use href="#sgK" x="247.57" y="303.27"/>
<use href="#sgK" x="250.64" y="303.41"/>
<use href="#sgK" x="253.70" y="303.54"/>
<use href="#sgK" x="256.76" y="303.68"/>
<use href="#sgK" x="259.82" y="303.81"/>
<use href="#sgK" x="262.88" y="303.95"/>
<use href="#sgK" x="265.94" y="304.09"/>
<use href="#sgK" x="269.00" y="304.22"/>
<use href="#sgK" x="272.06" y="304.36"/>
<use href="#sgK" x="275.12" y="304.49"/>
<use href="#sgK" x="278.18" y="304.63"/>
<use href="#sgK" x="281.24" y="304.77"/>
<use href="#sgK" x="284.30" y="304.90"/>
<use href="#sgK" x="287.36" y="305.04"/>
<use href="#sgK" x="290.42" y="305.17"/>
<use href="#sgK" x="293.48" y="305.31"/>
<use href="#sgK" x="296.54" y="305.45"/>
<use href="#sgK" x="299.60" y="305.58"/>
<use href="#sgK" x="302.66" y="305.74"/>
<use href="#sgK" x="305.72" y="305.90"/>
<use href="#sgK" x="308.78" y="306.06"/>
<use href="#sgK" x="311.84" y="306.22"/>
<use href="#sgK" x="314.91" y="306.38"/>
<use href="#sgK" x="317.97" y="306.54"/>
<use href="#sgK" x="321.03" y="306.70"/>
<use href="#sgK" x="324.09" y="306.86"/>
<use href="#sgK" x="327.15" y="307.03"/>
<use href="#sgK" x="330.21" y="307.19"/>
<use href="#sgK" x="333.27" y="307.35"/>
<use href="#sgK" x="336.33" y="307.51"/>
<use href="#sgK" x="339.39" y="307.67"/>
<use href="#sgK" x="342.45" y="307.84"/>
<use href="#sgK" x="345.51" y="308.01"/>
<use href="#sgK" x="348.57" y="308.19"/>
<use href="#sgK" x="351.63" y="308.36"/>
<use href="#sgK" x="354.69" y="308.53"/>
<use href="#sgK" x="357.75" y="308.71"/>
<use href="#sgK" x="360.81" y="308.88"/>
<use href="#sgK" x="363.87" y="309.05"/>
<use href="#sgK" x="366.93" y="309.23"/>
<use href="#sgK" x="369.99" y="309.40"/>
<use href="#sgK" x="373.06" y="309.57"/>
<use href="#sgK" x="376.12" y="309.75"/>
<use href="#sgK" x="379.18" y="309.92"/>
<use href="#sgK" x="382.24" y="310.09"/>
<use href="#sgK" x="385.30" y="310.27"/>
<use href="#sgK" x="388.36" y="310.44"/>
<use href="#sgK" x="391.42" y="310.61"/>
<use href="#sgK" x="394.48" y="310.79"/>
<use href="#sgK" x="397.54" y="310.96"/>
<use href="#sgK" x="400.60" y="311.13"/>
<use href="#sgK" x="403.66" y="311.31"/>
<use href="#sgK" x="406.72" y="311.48"/>
<use href="#sgK" x="409.78" y="311.65"/>
<use href="#sgK" x="412.84" y="311.83"/>
<use href="#sgK" x="415.90" y="312.00"/>
<use href="#sgK" x="418.96" y="312.17"/>
<use href="#sgK" x="422.02" y="311.15"/>
<use href="#sgK" x="425.08" y="311.32"/>
<use href="#sgK" x="428.14" y="311.49"/>
<use href="#sgK" x="431.20" y="311.64"/>
<use href="#sgK" x="434.26" y="311.75"/>
<use href="#sgK" x="437.33" y="311.86"/>
<use href="#sgK" x="440.39" y="311.96"/>
<use href="#sgK" x="443.45" y="312.07"/>
<use href="#sgK" x="446.51" y="312.18"/>
<use href="#sgK" x="449.57" y="312.28"/>
<use href="#sgK" x="452.63" y="312.39"/>
<use href="#sgK" x="455.69" y="312.50"/>
<use href="#sgK" x="458.75" y="312.61"/>
<use href="#sgK" x="461.81" y="312.71"/>
<use href="#sgK" x="464.87" y="312.82"/>
<use href="#sgK" x="467.93" y="312.93"/>
<use href="#sgK" x="470.99" y="313.03"/>
<use href="#sgK" x="474.05" y="313.14"/>
<use href="#sgK" x="477.11" y="313.25"/>
<use href="#sgK" x="480.17" y="313.96"/>
<use href="#sgK" x="483.23" y="314.06"/>
<use href="#sgK" x="486.29" y="314.17"/>
<use href="#sgK" x="489.35" y="314.28"/>
<use href="#sgK" x="492.41" y="314.36"/>
<use href="#sgK" x="495.48" y="314.44"/>
<use href="#sgK" x="498.54" y="314.52"/>
<use href="#sgK" x="501.60" y="314.60"/>
<use href="#sgK" x="504.66" y="314.68"/>
<use href="#sgK" x="507.72" y="314.76"/>
<use href="#sgK" x="510.78" y="314.84"/>
<use href="#sgK" x="513.84" y="314.92"/>
<use href="#sgK" x="516.90" y="315.00"/>
<use href="#sgK" x="519.96" y="315.08"/>
<use href="#sgK" x="523.02" y="315.16"/>
<use href="#sgK" x="526.08" y="315.24"/>
<use href="#sgK" x="529.14" y="315.32"/>
<use href="#sgK" x="532.20" y="315.40"/>
<use href="#sgK" x="535.26" y="315.48"/>
<use href="#sgK" x="538.32" y="315.56"/>
<use href="#sgK" x="541.38" y="315.66"/>
<use href="#sgK" x="544.44" y="315.78"/>
<use href="#sgK" x="547.50" y="315.90"/>
<use href="#sgK" x="550.56" y="316.02"/>
<use href="#sgK" x="553.62" y="316.14"/>
<use href="#sgK" x="556.69" y="316.27"/>
<use href="#sgK" x="559.75" y="316.39"/>
<use href="#sgK" x="562.81" y="316.51"/>
<use href="#sgK" x="565.87" y="316.63"/>
<use href="#sgK" x="568.93" y="316.76"/>
<use href="#sgK" x="571.99" y="316.88"/>
<use href="#sgK" x="575.05" y="317.00"/>
<use href="#sgK" x="578.11" y="317.12"/>
<use href="#sgK" x="581.17" y="317.25"/>
<use href="#sgK" x="584.23" y="317.37"/>
<use href="#sgK" x="587.29" y="317.49"/>
<use href="#sgK" x="590.35" y="317.62"/>
<use href="#sgK" x="593.41" y="317.76"/>
<use href="#sgK" x="596.47" y="317.91"/>
<use href="#sgK" x="599.53" y="318.06"/>
<use href="#sgK" x="602.59" y="318.20"/>
<use href="#sgK" x="605.65" y="318.35"/>
<use href="#sgK" x="608.71" y="318.50"/>
<use href="#sgK" x="611.77" y="318.64"/>
<use href="#sgK" x="614.83" y="318.79"/>
<use href="#sgK" x="617.89" y="318.94"/>
<use href="#sgK" x="620.96" y="319.08"/>
<use href="#sgK" x="624.02" y="319.23"/>
<use href="#sgK" x="627.08" y="319.37"/>
<use href="#sgK" x="630.14" y="319.52"/>
<use href="#sgK" x="633.20" y="319.67"/>
<use href="#sgK" x="636.26" y="319.81"/>
<use href="#sgK" x="639.32" y="319.96"/>
<use href="#sgK" x="642.38" y="320.11"/>
<use href="#sgK" x="645.44" y="320.25"/>
<use href="#sgK" x="648.50" y="320.40"/>
<polyline points="39.46,309.20 42.52,307.08 45.58,306.46 48.64,305.84 51.70,305.22 54.76,304.61 57.82,303.99 60.88,303.37 63.94,302.76 67.00,302.16 70.07,301.80 73.13,301.44 76.19,301.08 79.25,300.72 82.31,300.36 85.37,300.00 88.43,299.64 91.49,299.28 94.55,298.92 97.61,298.59 100.67,298.52 103.73,298.45 106.79,298.38 109.85,298.31 112.91,298.24 115.97,298.17 119.03,298.10 122.09,298.03 125.15,297.96 128.22,297.90 131.28,297.97 134.34,298.04 137.40,298.11 140.46,298.18 143.52,298.25 146.58,298.32 149.64,298.39 152.70,298.47 155.76,298.54 158.82,298.61 161.88,298.74 164.94,298.87 168.00,299.00 171.06,299.13 174.12,299.26 177.18,299.39 180.24,299.52 183.30,299.65 186.36,299.78 189.43,299.91 192.49,300.13 195.55,300.35 198.61,300.57 201.67,300.79 204.73,301.02 207.79,299.94 210.85,301.46 213.91,301.68 216.97,301.90 220.03,302.12 223.09,302.34 226.15,302.56 229.21,302.79 232.27,303.01 235.33,303.23 238.39,303.45 241.45,303.67 244.51,303.89 247.57,304.07 250.64,304.21 253.70,304.34 256.76,304.48 259.82,304.61 262.88,304.75 265.94,304.89 269.00,305.02 272.06,305.16 275.12,305.29 278.18,305.43 281.24,305.57 284.30,305.70 287.36,305.84 290.42,305.97 293.48,306.11 296.54,306.25 299.60,306.38 302.66,306.54 305.72,306.70 308.78,306.86 311.84,307.02 314.91,307.18 317.97,307.34 321.03,307.50 324.09,307.66 327.15,307.83 330.21,307.99 333.27,308.15 336.33,308.31 339.39,308.47 342.45,308.64 345.51,308.81 348.57,308.99 351.63,309.16 354.69,309.33 357.75,309.51 360.81,309.68 363.87,309.85 366.93,310.03 369.99,310.20 373.06,310.37 376.12,310.55 379.18,310.72 382.24,310.89 385.30,311.07 388.36,311.24 391.42,311.41 394.48,311.59 397.54,311.76 400.60,311.93 403.66,312.11 406.72,312.28 409.78,312.45 412.84,312.63 415.90,312.80 418.96,312.97 422.02,313.15 425.08,313.32 428.14,313.49 431.20,313.64 434.26,313.75 437.33,313.86 440.39,313.96 443.45,314.07 446.51,314.18 449.57,314.28 452.63,314.39 455.69,314.50 458.75,314.61 461.81,314.71 464.87,314.82 467.93,314.93 470.99,315.03 474.05,315.14 477.11,315.25 480.17,315.36 483.23,315.46 486.29,315.57 489.35,315.68 492.41,315.76 495.48,315.84 498.54,315.92 501.60,316.00 504.66,316.08 507.72,316.16 510.78,316.24 513.84,316.32 516.90,316.40 519.96,316.48 523.02,316.56 526.08,316.64 529.14,316.72 532.20,316.80 535.26,316.88 538.32,316.96 541.38,317.06 544.44,317.18 547.50,317.30 550.56,317.42 553.62,317.54 556.69,317.67 559.75,317.79 562.81,317.91 565.87,318.03 568.93,318.16 571.99,318.28 575.05,318.40 578.11,318.52 581.17,318.65 584.23,318.77 587.29,318.89 590.35,319.02 593.41,319.16 596.47,319.31 599.53,319.46 602.59,319.60 605.65,319.75 608.71,319.90 611.77,320.04 614.83,320.19 617.89,320.34 620.96,320.48 624.02,320.63 627.08,320.77 630.14,320.92 633.20,321.07 636.26,321.21 639.32,321.36 642.38,321.51 645.44,321.65 648.50,321.80" fill="none" stroke="#ff0000" stroke-width="1.3"/>
<use href="#sgR" x="39.46" y="309.20"/>
<use href="#sgR" x="42.52" y="307.08"/>
<use href="#sgR" x="45.58" y="306.46"/>
<use href="#sgR" x="48.64" y="305.84"/>
<use href="#sgR" x="51.70" y="305.22"/>
<use href="#sgR" x="54.76" y="304.61"/>
<use href="#sgR" x="57.82" y="303.99"/>
<use href="#sgR" x="60.88" y="303.37"/>
<use href="#sgR" x="63.94" y="302.76"/>
<use href="#sgR" x="67.00" y="302.16"/>
<use href="#sgR" x="70.07" y="301.80"/>
<use href="#sgR" x="73.13" y="301.44"/>
<use href="#sgR" x="76.19" y="301.08"/>
<use href="#sgR" x="79.25" y="300.72"/>
<use href="#sgR" x="82.31" y="300.36"/>
<use href="#sgR" x="85.37" y="300.00"/>
<use href="#sgR" x="88.43" y="299.64"/>
<use href="#sgR" x="91.49" y="299.28"/>
<use href="#sgR" x="94.55" y="298.92"/>
<use href="#sgR" x="97.61" y="298.59"/>
<use href="#sgR" x="100.67" y="298.52"/>
<use href="#sgR" x="103.73" y="298.45"/>
<use href="#sgR" x="106.79" y="298.38"/>
<use href="#sgR" x="109.85" y="298.31"/>
<use href="#sgR" x="112.91" y="298.24"/>
<use href="#sgR" x="115.97" y="298.17"/>
<use href="#sgR" x="119.03" y="298.10"/>
<use href="#sgR" x="122.09" y="298.03"/>
<use href="#sgR" x="125.15" y="297.96"/>
<use href="#sgR" x="128.22" y="297.90"/>
<use href="#sgR" x="131.28" y="297.97"/>
<use href="#sgR" x="134.34" y="298.04"/>
<use href="#sgR" x="137.40" y="298.11"/>
<use href="#sgR" x="140.46" y="298.18"/>
<use href="#sgR" x="143.52" y="298.25"/>
<use href="#sgR" x="146.58" y="298.32"/>
<use href="#sgR" x="149.64" y="298.39"/>
<use href="#sgR" x="152.70" y="298.47"/>
<use href="#sgR" x="155.76" y="298.54"/>
<use href="#sgR" x="158.82" y="298.61"/>
<use href="#sgR" x="161.88" y="298.74"/>
<use href="#sgR" x="164.94" y="298.87"/>
<use href="#sgR" x="168.00" y="299.00"/>
<use href="#sgR" x="171.06" y="299.13"/>
<use href="#sgR" x="174.12" y="299.26"/>
<use href="#sgR" x="177.18" y="299.39"/>
<use href="#sgR" x="180.24" y="299.52"/>
<use href="#sgR" x="183.30" y="299.65"/>
<use href="#sgR" x="186.36" y="299.78"/>
<use href="#sgR" x="189.43" y="299.91"/>
<use href="#sgR" x="192.49" y="300.13"/>
<use href="#sgR" x="195.55" y="300.35"/>
<use href="#sgR" x="198.61" y="300.57"/>
<use href="#sgR" x="201.67" y="300.79"/>
<use href="#sgR" x="204.73" y="301.02"/>
<use href="#sgR" x="207.79" y="299.94"/>
<use href="#sgR" x="210.85" y="301.46"/>
<use href="#sgR" x="213.91" y="301.68"/>
<use href="#sgR" x="216.97" y="301.90"/>
<use href="#sgR" x="220.03" y="302.12"/>
<use href="#sgR" x="223.09" y="302.34"/>
<use href="#sgR" x="226.15" y="302.56"/>
<use href="#sgR" x="229.21" y="302.79"/>
<use href="#sgR" x="232.27" y="303.01"/>
<use href="#sgR" x="235.33" y="303.23"/>
<use href="#sgR" x="238.39" y="303.45"/>
<use href="#sgR" x="241.45" y="303.67"/>
<use href="#sgR" x="244.51" y="303.89"/>
<use href="#sgR" x="247.57" y="304.07"/>
<use href="#sgR" x="250.64" y="304.21"/>
<use href="#sgR" x="253.70" y="304.34"/>
<use href="#sgR" x="256.76" y="304.48"/>
<use href="#sgR" x="259.82" y="304.61"/>
<use href="#sgR" x="262.88" y="304.75"/>
<use href="#sgR" x="265.94" y="304.89"/>
<use href="#sgR" x="269.00" y="305.02"/>
<use href="#sgR" x="272.06" y="305.16"/>
<use href="#sgR" x="275.12" y="305.29"/>
<use href="#sgR" x="278.18" y="305.43"/>
<use href="#sgR" x="281.24" y="305.57"/>
<use href="#sgR" x="284.30" y="305.70"/>
<use href="#sgR" x="287.36" y="305.84"/>
<use href="#sgR" x="290.42" y="305.97"/>
<use href="#sgR" x="293.48" y="306.11"/>
<use href="#sgR" x="296.54" y="306.25"/>
<use href="#sgR" x="299.60" y="306.38"/>
<use href="#sgR" x="302.66" y="306.54"/>
<use href="#sgR" x="305.72" y="306.70"/>
<use href="#sgR" x="308.78" y="306.86"/>
<use href="#sgR" x="311.84" y="307.02"/>
<use href="#sgR" x="314.91" y="307.18"/>
<use href="#sgR" x="317.97" y="307.34"/>
<use href="#sgR" x="321.03" y="307.50"/>
<use href="#sgR" x="324.09" y="307.66"/>
<use href="#sgR" x="327.15" y="307.83"/>
<use href="#sgR" x="330.21" y="307.99"/>
<use href="#sgR" x="333.27" y="308.15"/>
<use href="#sgR" x="336.33" y="308.31"/>
<use href="#sgR" x="339.39" y="308.47"/>
<use href="#sgR" x="342.45" y="308.64"/>
<use href="#sgR" x="345.51" y="308.81"/>
<use href="#sgR" x="348.57" y="308.99"/>
<use href="#sgR" x="351.63" y="309.16"/>
<use href="#sgR" x="354.69" y="309.33"/>
<use href="#sgR" x="357.75" y="309.51"/>
<use href="#sgR" x="360.81" y="309.68"/>
<use href="#sgR" x="363.87" y="309.85"/>
<use href="#sgR" x="366.93" y="310.03"/>
<use href="#sgR" x="369.99" y="310.20"/>
<use href="#sgR" x="373.06" y="310.37"/>
<use href="#sgR" x="376.12" y="310.55"/>
<use href="#sgR" x="379.18" y="310.72"/>
<use href="#sgR" x="382.24" y="310.89"/>
<use href="#sgR" x="385.30" y="311.07"/>
<use href="#sgR" x="388.36" y="311.24"/>
<use href="#sgR" x="391.42" y="311.41"/>
<use href="#sgR" x="394.48" y="311.59"/>
<use href="#sgR" x="397.54" y="311.76"/>
<use href="#sgR" x="400.60" y="311.93"/>
<use href="#sgR" x="403.66" y="312.11"/>
<use href="#sgR" x="406.72" y="312.28"/>
<use href="#sgR" x="409.78" y="312.45"/>
<use href="#sgR" x="412.84" y="312.63"/>
<use href="#sgR" x="415.90" y="312.80"/>
<use href="#sgR" x="418.96" y="312.97"/>
<use href="#sgR" x="422.02" y="313.15"/>
<use href="#sgR" x="425.08" y="313.32"/>
<use href="#sgR" x="428.14" y="313.49"/>
<use href="#sgR" x="431.20" y="313.64"/>
<use href="#sgR" x="434.26" y="313.75"/>
<use href="#sgR" x="437.33" y="313.86"/>
<use href="#sgR" x="440.39" y="313.96"/>
<use href="#sgR" x="443.45" y="314.07"/>
<use href="#sgR" x="446.51" y="314.18"/>
<use href="#sgR" x="449.57" y="314.28"/>
<use href="#sgR" x="452.63" y="314.39"/>
<use href="#sgR" x="455.69" y="314.50"/>
<use href="#sgR" x="458.75" y="314.61"/>
<use href="#sgR" x="461.81" y="314.71"/>
<use href="#sgR" x="464.87" y="314.82"/>
<use href="#sgR" x="467.93" y="314.93"/>
<use href="#sgR" x="470.99" y="315.03"/>
<use href="#sgR" x="474.05" y="315.14"/>
<use href="#sgR" x="477.11" y="315.25"/>
<use href="#sgR" x="480.17" y="315.36"/>
<use href="#sgR" x="483.23" y="315.46"/>
<use href="#sgR" x="486.29" y="315.57"/>
<use href="#sgR" x="489.35" y="315.68"/>
<use href="#sgR" x="492.41" y="315.76"/>
<use href="#sgR" x="495.48" y="315.84"/>
<use href="#sgR" x="498.54" y="315.92"/>
<use href="#sgR" x="501.60" y="316.00"/>
<use href="#sgR" x="504.66" y="316.08"/>
<use href="#sgR" x="507.72" y="316.16"/>
<use href="#sgR" x="510.78" y="316.24"/>
<use href="#sgR" x="513.84" y="316.32"/>
<use href="#sgR" x="516.90" y="316.40"/>
<use href="#sgR" x="519.96" y="316.48"/>
<use href="#sgR" x="523.02" y="316.56"/>
<use href="#sgR" x="526.08" y="316.64"/>
<use href="#sgR" x="529.14" y="316.72"/>
<use href="#sgR" x="532.20" y="316.80"/>
<use href="#sgR" x="535.26" y="316.88"/>
<use href="#sgR" x="538.32" y="316.96"/>
<use href="#sgR" x="541.38" y="317.06"/>
<use href="#sgR" x="544.44" y="317.18"/>
<use href="#sgR" x="547.50" y="317.30"/>
<use href="#sgR" x="550.56" y="317.42"/>
<use href="#sgR" x="553.62" y="317.54"/>
<use href="#sgR" x="556.69" y="317.67"/>
<use href="#sgR" x="559.75" y="317.79"/>
<use href="#sgR" x="562.81" y="317.91"/>
<use href="#sgR" x="565.87" y="318.03"/>
<use href="#sgR" x="568.93" y="318.16"/>
<use href="#sgR" x="571.99" y="318.28"/>
<use href="#sgR" x="575.05" y="318.40"/>
<use href="#sgR" x="578.11" y="318.52"/>
<use href="#sgR" x="581.17" y="318.65"/>
<use href="#sgR" x="584.23" y="318.77"/>
<use href="#sgR" x="587.29" y="318.89"/>
<use href="#sgR" x="590.35" y="319.02"/>
<use href="#sgR" x="593.41" y="319.16"/>
<use href="#sgR" x="596.47" y="319.31"/>
<use href="#sgR" x="599.53" y="319.46"/>
<use href="#sgR" x="602.59" y="319.60"/>
<use href="#sgR" x="605.65" y="319.75"/>
<use href="#sgR" x="608.71" y="319.90"/>
<use href="#sgR" x="611.77" y="320.04"/>
<use href="#sgR" x="614.83" y="320.19"/>
<use href="#sgR" x="617.89" y="320.34"/>
<use href="#sgR" x="620.96" y="320.48"/>
<use href="#sgR" x="624.02" y="320.63"/>
<use href="#sgR" x="627.08" y="320.77"/>
<use href="#sgR" x="630.14" y="320.92"/>
<use href="#sgR" x="633.20" y="321.07"/>
<use href="#sgR" x="636.26" y="321.21"/>
<use href="#sgR" x="639.32" y="321.36"/>
<use href="#sgR" x="642.38" y="321.51"/>
<use href="#sgR" x="645.44" y="321.65"/>
<use href="#sgR" x="648.50" y="321.80"/>
<line x1="36.40" y1="321.6" x2="648.50" y2="321.6" stroke="#222" stroke-width="1.3" stroke-dasharray="6.7 6.0"/>
<polyline points="39.46,349.20 42.52,221.41 45.58,221.36 48.64,221.43 51.70,221.44 54.76,221.27 57.82,221.25 60.88,221.50 63.94,221.33 67.00,221.32 70.07,221.55 73.13,221.39 76.19,220.60 79.25,218.93 82.31,222.49 85.37,221.46 88.43,220.96 91.49,220.75 94.55,218.95 97.61,222.51 100.67,221.50 103.73,221.17 106.79,220.53 109.85,218.90 112.91,222.54 115.97,221.32 119.03,220.91 122.09,220.85 125.15,218.79 128.22,222.59 131.28,221.55 134.34,221.19 137.40,219.49 140.46,222.24 143.52,221.52 146.58,221.14 149.64,221.01 152.70,219.47 155.76,222.12 158.82,221.25 161.88,221.05 164.94,221.03 168.00,219.29 171.06,222.33 174.12,221.32 177.18,221.16 180.24,220.79 183.30,219.26 186.36,222.31 189.43,221.43 192.49,221.32 195.55,220.91 198.61,219.49 201.67,222.42 204.73,221.60 207.79,221.23 210.85,219.76 213.91,220.01 216.97,220.03 220.03,219.98 223.09,219.82 226.15,219.86 229.21,219.63 232.27,219.85 235.33,219.73 238.39,219.59 241.45,219.47 244.51,219.77 247.57,219.80 250.64,219.41 253.70,219.67 256.76,219.49 259.82,219.36 262.88,219.48 265.94,219.74 269.00,219.85 272.06,219.58 275.12,219.88 278.18,219.72 281.24,220.05 284.30,219.97 287.36,220.25 290.42,220.36 293.48,220.24 296.54,220.50 299.60,220.30 302.66,220.27 305.72,220.55 308.78,220.39 311.84,220.52 314.91,220.68 317.97,220.84 321.03,220.73 324.09,220.76 327.15,221.16 330.21,221.01 333.27,221.34 336.33,221.39 339.39,221.26 342.45,221.36 345.51,221.46 348.57,221.58 351.63,221.64 354.69,221.70 357.75,221.79 360.81,221.99 363.87,221.88 366.93,221.91 369.99,222.09 373.06,221.96 376.12,222.04 379.18,222.37 382.24,222.25 385.30,222.33 388.36,222.17 391.42,222.39 394.48,222.52 397.54,222.36 400.60,222.68 403.66,222.87 406.72,222.83 409.78,223.24 412.84,223.36 415.90,223.63 418.96,223.68 422.02,224.00 425.08,224.20 428.14,224.10 431.20,224.42 434.26,225.17 437.33,225.79 440.39,226.01 443.45,226.60 446.51,227.16 449.57,227.42 452.63,227.78 455.69,227.87 458.75,227.22 461.81,226.64 464.87,225.85 467.93,225.21 470.99,224.75 474.05,223.96 477.11,223.69 480.17,223.27 483.23,222.61 486.29,222.08 489.35,221.82 492.41,221.35 495.48,221.15 498.54,221.06 501.60,221.05 504.66,220.75 507.72,220.77 510.78,220.72 513.84,220.86 516.90,220.64 519.96,220.74 523.02,220.41 526.08,220.41 529.14,220.48 532.20,220.82 535.26,221.01 538.32,221.29 541.38,221.63 544.44,222.20 547.50,222.48 550.56,223.13 553.62,223.55 556.69,223.39 559.75,223.27 562.81,223.33 565.87,223.11 568.93,223.01 571.99,222.67 575.05,222.42 578.11,222.32 581.17,222.42 584.23,222.23 587.29,222.27 590.35,222.32 593.41,222.33 596.47,222.35 599.53,222.57 602.59,222.39 605.65,222.48 608.71,223.01 611.77,223.14 614.83,223.34 617.89,223.27 620.96,223.69 624.02,224.03 627.08,224.10 630.14,224.89 633.20,225.50 636.26,225.92 639.32,226.23 642.38,226.50 645.44,226.90 648.50,227.29" fill="none" stroke="#0000ff" stroke-width="1.3"/>
<use href="#sgB" x="39.46" y="349.20"/>
<use href="#sgB" x="42.52" y="221.41"/>
<use href="#sgB" x="45.58" y="221.36"/>
<use href="#sgB" x="48.64" y="221.43"/>
<use href="#sgB" x="51.70" y="221.44"/>
<use href="#sgB" x="54.76" y="221.27"/>
<use href="#sgB" x="57.82" y="221.25"/>
<use href="#sgB" x="60.88" y="221.50"/>
<use href="#sgB" x="63.94" y="221.33"/>
<use href="#sgB" x="67.00" y="221.32"/>
<use href="#sgB" x="70.07" y="221.55"/>
<use href="#sgB" x="73.13" y="221.39"/>
<use href="#sgB" x="76.19" y="220.60"/>
<use href="#sgB" x="79.25" y="218.93"/>
<use href="#sgB" x="82.31" y="222.49"/>
<use href="#sgB" x="85.37" y="221.46"/>
<use href="#sgB" x="88.43" y="220.96"/>
<use href="#sgB" x="91.49" y="220.75"/>
<use href="#sgB" x="94.55" y="218.95"/>
<use href="#sgB" x="97.61" y="222.51"/>
<use href="#sgB" x="100.67" y="221.50"/>
<use href="#sgB" x="103.73" y="221.17"/>
<use href="#sgB" x="106.79" y="220.53"/>
<use href="#sgB" x="109.85" y="218.90"/>
<use href="#sgB" x="112.91" y="222.54"/>
<use href="#sgB" x="115.97" y="221.32"/>
<use href="#sgB" x="119.03" y="220.91"/>
<use href="#sgB" x="122.09" y="220.85"/>
<use href="#sgB" x="125.15" y="218.79"/>
<use href="#sgB" x="128.22" y="222.59"/>
<use href="#sgB" x="131.28" y="221.55"/>
<use href="#sgB" x="134.34" y="221.19"/>
<use href="#sgB" x="137.40" y="219.49"/>
<use href="#sgB" x="140.46" y="222.24"/>
<use href="#sgB" x="143.52" y="221.52"/>
<use href="#sgB" x="146.58" y="221.14"/>
<use href="#sgB" x="149.64" y="221.01"/>
<use href="#sgB" x="152.70" y="219.47"/>
<use href="#sgB" x="155.76" y="222.12"/>
<use href="#sgB" x="158.82" y="221.25"/>
<use href="#sgB" x="161.88" y="221.05"/>
<use href="#sgB" x="164.94" y="221.03"/>
<use href="#sgB" x="168.00" y="219.29"/>
<use href="#sgB" x="171.06" y="222.33"/>
<use href="#sgB" x="174.12" y="221.32"/>
<use href="#sgB" x="177.18" y="221.16"/>
<use href="#sgB" x="180.24" y="220.79"/>
<use href="#sgB" x="183.30" y="219.26"/>
<use href="#sgB" x="186.36" y="222.31"/>
<use href="#sgB" x="189.43" y="221.43"/>
<use href="#sgB" x="192.49" y="221.32"/>
<use href="#sgB" x="195.55" y="220.91"/>
<use href="#sgB" x="198.61" y="219.49"/>
<use href="#sgB" x="201.67" y="222.42"/>
<use href="#sgB" x="204.73" y="221.60"/>
<use href="#sgB" x="207.79" y="221.23"/>
<use href="#sgB" x="210.85" y="219.76"/>
<use href="#sgB" x="213.91" y="220.01"/>
<use href="#sgB" x="216.97" y="220.03"/>
<use href="#sgB" x="220.03" y="219.98"/>
<use href="#sgB" x="223.09" y="219.82"/>
<use href="#sgB" x="226.15" y="219.86"/>
<use href="#sgB" x="229.21" y="219.63"/>
<use href="#sgB" x="232.27" y="219.85"/>
<use href="#sgB" x="235.33" y="219.73"/>
<use href="#sgB" x="238.39" y="219.59"/>
<use href="#sgB" x="241.45" y="219.47"/>
<use href="#sgB" x="244.51" y="219.77"/>
<use href="#sgB" x="247.57" y="219.80"/>
<use href="#sgB" x="250.64" y="219.41"/>
<use href="#sgB" x="253.70" y="219.67"/>
<use href="#sgB" x="256.76" y="219.49"/>
<use href="#sgB" x="259.82" y="219.36"/>
<use href="#sgB" x="262.88" y="219.48"/>
<use href="#sgB" x="265.94" y="219.74"/>
<use href="#sgB" x="269.00" y="219.85"/>
<use href="#sgB" x="272.06" y="219.58"/>
<use href="#sgB" x="275.12" y="219.88"/>
<use href="#sgB" x="278.18" y="219.72"/>
<use href="#sgB" x="281.24" y="220.05"/>
<use href="#sgB" x="284.30" y="219.97"/>
<use href="#sgB" x="287.36" y="220.25"/>
<use href="#sgB" x="290.42" y="220.36"/>
<use href="#sgB" x="293.48" y="220.24"/>
<use href="#sgB" x="296.54" y="220.50"/>
<use href="#sgB" x="299.60" y="220.30"/>
<use href="#sgB" x="302.66" y="220.27"/>
<use href="#sgB" x="305.72" y="220.55"/>
<use href="#sgB" x="308.78" y="220.39"/>
<use href="#sgB" x="311.84" y="220.52"/>
<use href="#sgB" x="314.91" y="220.68"/>
<use href="#sgB" x="317.97" y="220.84"/>
<use href="#sgB" x="321.03" y="220.73"/>
<use href="#sgB" x="324.09" y="220.76"/>
<use href="#sgB" x="327.15" y="221.16"/>
<use href="#sgB" x="330.21" y="221.01"/>
<use href="#sgB" x="333.27" y="221.34"/>
<use href="#sgB" x="336.33" y="221.39"/>
<use href="#sgB" x="339.39" y="221.26"/>
<use href="#sgB" x="342.45" y="221.36"/>
<use href="#sgB" x="345.51" y="221.46"/>
<use href="#sgB" x="348.57" y="221.58"/>
<use href="#sgB" x="351.63" y="221.64"/>
<use href="#sgB" x="354.69" y="221.70"/>
<use href="#sgB" x="357.75" y="221.79"/>
<use href="#sgB" x="360.81" y="221.99"/>
<use href="#sgB" x="363.87" y="221.88"/>
<use href="#sgB" x="366.93" y="221.91"/>
<use href="#sgB" x="369.99" y="222.09"/>
<use href="#sgB" x="373.06" y="221.96"/>
<use href="#sgB" x="376.12" y="222.04"/>
<use href="#sgB" x="379.18" y="222.37"/>
<use href="#sgB" x="382.24" y="222.25"/>
<use href="#sgB" x="385.30" y="222.33"/>
<use href="#sgB" x="388.36" y="222.17"/>
<use href="#sgB" x="391.42" y="222.39"/>
<use href="#sgB" x="394.48" y="222.52"/>
<use href="#sgB" x="397.54" y="222.36"/>
<use href="#sgB" x="400.60" y="222.68"/>
<use href="#sgB" x="403.66" y="222.87"/>
<use href="#sgB" x="406.72" y="222.83"/>
<use href="#sgB" x="409.78" y="223.24"/>
<use href="#sgB" x="412.84" y="223.36"/>
<use href="#sgB" x="415.90" y="223.63"/>
<use href="#sgB" x="418.96" y="223.68"/>
<use href="#sgB" x="422.02" y="224.00"/>
<use href="#sgB" x="425.08" y="224.20"/>
<use href="#sgB" x="428.14" y="224.10"/>
<use href="#sgB" x="431.20" y="224.42"/>
<use href="#sgB" x="434.26" y="225.17"/>
<use href="#sgB" x="437.33" y="225.79"/>
<use href="#sgB" x="440.39" y="226.01"/>
<use href="#sgB" x="443.45" y="226.60"/>
<use href="#sgB" x="446.51" y="227.16"/>
<use href="#sgB" x="449.57" y="227.42"/>
<use href="#sgB" x="452.63" y="227.78"/>
<use href="#sgB" x="455.69" y="227.87"/>
<use href="#sgB" x="458.75" y="227.22"/>
<use href="#sgB" x="461.81" y="226.64"/>
<use href="#sgB" x="464.87" y="225.85"/>
<use href="#sgB" x="467.93" y="225.21"/>
<use href="#sgB" x="470.99" y="224.75"/>
<use href="#sgB" x="474.05" y="223.96"/>
<use href="#sgB" x="477.11" y="223.69"/>
<use href="#sgB" x="480.17" y="223.27"/>
<use href="#sgB" x="483.23" y="222.61"/>
<use href="#sgB" x="486.29" y="222.08"/>
<use href="#sgB" x="489.35" y="221.82"/>
<use href="#sgB" x="492.41" y="221.35"/>
<use href="#sgB" x="495.48" y="221.15"/>
<use href="#sgB" x="498.54" y="221.06"/>
<use href="#sgB" x="501.60" y="221.05"/>
<use href="#sgB" x="504.66" y="220.75"/>
<use href="#sgB" x="507.72" y="220.77"/>
<use href="#sgB" x="510.78" y="220.72"/>
<use href="#sgB" x="513.84" y="220.86"/>
<use href="#sgB" x="516.90" y="220.64"/>
<use href="#sgB" x="519.96" y="220.74"/>
<use href="#sgB" x="523.02" y="220.41"/>
<use href="#sgB" x="526.08" y="220.41"/>
<use href="#sgB" x="529.14" y="220.48"/>
<use href="#sgB" x="532.20" y="220.82"/>
<use href="#sgB" x="535.26" y="221.01"/>
<use href="#sgB" x="538.32" y="221.29"/>
<use href="#sgB" x="541.38" y="221.63"/>
<use href="#sgB" x="544.44" y="222.20"/>
<use href="#sgB" x="547.50" y="222.48"/>
<use href="#sgB" x="550.56" y="223.13"/>
<use href="#sgB" x="553.62" y="223.55"/>
<use href="#sgB" x="556.69" y="223.39"/>
<use href="#sgB" x="559.75" y="223.27"/>
<use href="#sgB" x="562.81" y="223.33"/>
<use href="#sgB" x="565.87" y="223.11"/>
<use href="#sgB" x="568.93" y="223.01"/>
<use href="#sgB" x="571.99" y="222.67"/>
<use href="#sgB" x="575.05" y="222.42"/>
<use href="#sgB" x="578.11" y="222.32"/>
<use href="#sgB" x="581.17" y="222.42"/>
<use href="#sgB" x="584.23" y="222.23"/>
<use href="#sgB" x="587.29" y="222.27"/>
<use href="#sgB" x="590.35" y="222.32"/>
<use href="#sgB" x="593.41" y="222.33"/>
<use href="#sgB" x="596.47" y="222.35"/>
<use href="#sgB" x="599.53" y="222.57"/>
<use href="#sgB" x="602.59" y="222.39"/>
<use href="#sgB" x="605.65" y="222.48"/>
<use href="#sgB" x="608.71" y="223.01"/>
<use href="#sgB" x="611.77" y="223.14"/>
<use href="#sgB" x="614.83" y="223.34"/>
<use href="#sgB" x="617.89" y="223.27"/>
<use href="#sgB" x="620.96" y="223.69"/>
<use href="#sgB" x="624.02" y="224.03"/>
<use href="#sgB" x="627.08" y="224.10"/>
<use href="#sgB" x="630.14" y="224.89"/>
<use href="#sgB" x="633.20" y="225.50"/>
<use href="#sgB" x="636.26" y="225.92"/>
<use href="#sgB" x="639.32" y="226.23"/>
<use href="#sgB" x="642.38" y="226.50"/>
<use href="#sgB" x="645.44" y="226.90"/>
<use href="#sgB" x="648.50" y="227.29"/>
<polyline points="74.9,306.3 74.9,336.2 46,336.2" fill="none" stroke="#ff0000" stroke-width="1.3"/>
<path d="M37.9,336.2 L48.2,332.4 L48.2,340 z" fill="#ff0000"/>
<polyline points="610.7,228.6 610.7,258.3 637,258.3" fill="none" stroke="#0000ff" stroke-width="1.3"/>
<path d="M647.4,258.3 L637,254.5 L637,262.1 z" fill="#0000ff"/>
<line x1="615.4" y1="287.6" x2="641" y2="308.5" stroke="#000" stroke-width="1.3"/>
<path d="M648.2,313.9 L637.6,311.6 L642.6,305.3 z" fill="#000"/>
<rect x="36.40" y="212.40" width="612.10" height="165.40" fill="none" stroke="#000" stroke-width="1.45"/>
<line x1="36.40" y1="377.80" x2="36.40" y2="381.50" stroke="#000" stroke-width="1.1" />
<text transform="translate(36.40,392.20) scale(1,1.1)" font-size="9" font-weight="bold" text-anchor="middle" fill="#000" >0</text>
<line x1="189.43" y1="377.80" x2="189.43" y2="381.50" stroke="#000" stroke-width="1.1" />
<text transform="translate(189.43,392.20) scale(1,1.1)" font-size="9" font-weight="bold" text-anchor="middle" fill="#000" >50</text>
<line x1="342.45" y1="377.80" x2="342.45" y2="381.50" stroke="#000" stroke-width="1.1" />
<text transform="translate(342.45,392.20) scale(1,1.1)" font-size="9" font-weight="bold" text-anchor="middle" fill="#000" >100</text>
<line x1="495.48" y1="377.80" x2="495.48" y2="381.50" stroke="#000" stroke-width="1.1" />
<text transform="translate(495.48,392.20) scale(1,1.1)" font-size="9" font-weight="bold" text-anchor="middle" fill="#000" >150</text>
<line x1="648.50" y1="377.80" x2="648.50" y2="381.50" stroke="#000" stroke-width="1.1" />
<text transform="translate(648.50,392.20) scale(1,1.1)" font-size="9" font-weight="bold" text-anchor="middle" fill="#000" >200</text>
<line x1="112.91" y1="377.80" x2="112.91" y2="379.80" stroke="#000" stroke-width="1.0" />
<line x1="265.94" y1="377.80" x2="265.94" y2="379.80" stroke="#000" stroke-width="1.0" />
<line x1="418.96" y1="377.80" x2="418.96" y2="379.80" stroke="#000" stroke-width="1.0" />
<line x1="571.99" y1="377.80" x2="571.99" y2="379.80" stroke="#000" stroke-width="1.0" />
<line x1="32.60" y1="377.41" x2="36.40" y2="377.41" stroke="#000" stroke-width="1.1" />
<text transform="translate(29.60,379.71) scale(1,1.1)" font-size="9" font-weight="bold" text-anchor="end" fill="#000" >60</text>
<line x1="32.60" y1="322.40" x2="36.40" y2="322.40" stroke="#000" stroke-width="1.1" />
<text transform="translate(29.60,324.70) scale(1,1.1)" font-size="9" font-weight="bold" text-anchor="end" fill="#000" >120</text>
<line x1="32.60" y1="267.40" x2="36.40" y2="267.40" stroke="#000" stroke-width="1.1" />
<text transform="translate(29.60,269.70) scale(1,1.1)" font-size="9" font-weight="bold" text-anchor="end" fill="#000" >180</text>
<line x1="32.60" y1="212.40" x2="36.40" y2="212.40" stroke="#000" stroke-width="1.1" />
<text transform="translate(29.60,214.70) scale(1,1.1)" font-size="9" font-weight="bold" text-anchor="end" fill="#000" >240</text>
<line x1="34.40" y1="349.90" x2="36.40" y2="349.90" stroke="#000" stroke-width="1.0" />
<line x1="34.40" y1="294.90" x2="36.40" y2="294.90" stroke="#000" stroke-width="1.0" />
<line x1="34.40" y1="239.90" x2="36.40" y2="239.90" stroke="#000" stroke-width="1.0" />
<line x1="648.50" y1="377.50" x2="652.30" y2="377.50" stroke="#000" stroke-width="1.1" />
<text transform="translate(655.40,379.80) scale(1,1.1)" font-size="9" font-weight="bold" text-anchor="start" fill="#000" >70</text>
<line x1="648.50" y1="324.20" x2="652.30" y2="324.20" stroke="#000" stroke-width="1.1" />
<text transform="translate(655.40,326.50) scale(1,1.1)" font-size="9" font-weight="bold" text-anchor="start" fill="#000" >80</text>
<line x1="648.50" y1="270.90" x2="652.30" y2="270.90" stroke="#000" stroke-width="1.1" />
<text transform="translate(655.40,273.20) scale(1,1.1)" font-size="9" font-weight="bold" text-anchor="start" fill="#000" >90</text>
<line x1="648.50" y1="217.60" x2="652.30" y2="217.60" stroke="#000" stroke-width="1.1" />
<text transform="translate(655.40,219.90) scale(1,1.1)" font-size="9" font-weight="bold" text-anchor="start" fill="#000" >100</text>
<line x1="648.50" y1="350.85" x2="650.50" y2="350.85" stroke="#000" stroke-width="1.0" />
<line x1="648.50" y1="297.55" x2="650.50" y2="297.55" stroke="#000" stroke-width="1.0" />
<line x1="648.50" y1="244.25" x2="650.50" y2="244.25" stroke="#000" stroke-width="1.0" />
<text x="342.60" y="406.70" font-size="10.6" font-weight="bold" text-anchor="middle" fill="#000" >Cycle number</text>
<text transform="translate(10.60,294.80) rotate(-90)" x="0" y="0" font-size="10.6" font-weight="bold" text-anchor="middle">Capacity (mAh g<tspan font-size="7" dy="-4">-1</tspan><tspan dy="4">)</tspan></text>
<text transform="translate(682.90,295.00) rotate(-90)" x="0" y="0" font-size="10.6" font-weight="bold" text-anchor="middle">Coulombic efficiency (%)</text>
<line x1="112.90" y1="338.10" x2="132.70" y2="338.10" stroke="#000" stroke-width="1.3" />
<circle cx="122.5" cy="338.1" r="3.7" fill="url(#gK)"/>
<text x="134.80" y="341.10" font-size="8.4" text-anchor="start" fill="#000" >Charge</text>
<line x1="112.90" y1="352.50" x2="132.70" y2="352.50" stroke="#ff0000" stroke-width="1.3" />
<circle cx="122.5" cy="352.5" r="3.7" fill="url(#gR)"/>
<text x="134.80" y="355.50" font-size="8.4" text-anchor="start" fill="#000" >Discharge</text>
<line x1="112.90" y1="367.00" x2="132.70" y2="367.00" stroke="#0000ff" stroke-width="1.3" />
<circle cx="122.5" cy="367.0" r="3.7" fill="url(#gB)"/>
<text x="134.80" y="370.00" font-size="8.4" text-anchor="start" fill="#000" >Coulombic efficiency</text>
<text x="343" y="341.7" font-size="8.4" fill="#000">Li<tspan font-size="5.4" dy="2">13</tspan><tspan dy="-2">Si</tspan><tspan font-size="5.4" dy="2">4</tspan><tspan dy="-2"> | LPSCl-LZACO | scNCM92</tspan></text>
<text x="343" y="358.2" font-size="8.4" fill="#000">30 °C, 66 mA g<tspan font-size="5.4" dy="-3">-1</tspan><tspan dy="3"> (0.33 C), 5.29 mg cm</tspan><tspan font-size="5.4" dy="-3">-2</tspan></text>
<text x="343" y="372.5" font-size="8.45" fill="#000">2.0 — 4.3 V vs. Li/Li<tspan font-size="5.4" dy="-3">+</tspan></text>
<text x="611.3" y="279.2" font-size="8.4" fill="#000" text-anchor="end">82.06% capacity retention</text>
<text x="611.3" y="293.2" font-size="8.4" fill="#000" text-anchor="end">(200 cycles)</text></svg></body></html>
